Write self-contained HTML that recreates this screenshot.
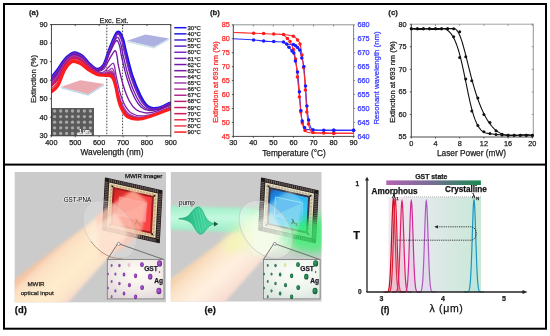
<!DOCTYPE html>
<html><head><meta charset="utf-8"><style>
html,body{margin:0;padding:0;background:#fff;}
body{width:550px;height:336px;overflow:hidden;position:relative;font-family:"Liberation Sans",sans-serif;}
svg{position:absolute;left:0;top:0;opacity:0.999;}
</style></head><body>
<svg width="550" height="336" viewBox="0 0 550 336">
<rect x="4" y="4" width="542" height="324.7" fill="none" stroke="#000" stroke-width="2"/>
<rect x="3" y="163.6" width="544" height="2" fill="#000"/>
<text x="29" y="15" font-family="Liberation Sans, sans-serif" font-size="7.8" font-weight="bold" fill="#222" stroke="#222" stroke-width="0.25">(a)</text>
<text transform="translate(36.3,79) rotate(-90)" text-anchor="middle" font-family="Liberation Sans, sans-serif" font-size="7.8" fill="#222" stroke="#222" stroke-width="0.25">Extinction (%)</text>
<text x="47.6" y="26.90" text-anchor="end" font-family="Liberation Sans, sans-serif" font-size="7.3" fill="#222" stroke="#222" stroke-width="0.25">90</text>
<line x1="49.9" y1="24.60" x2="51.4" y2="24.60" stroke="#333" stroke-width="0.8"/>
<text x="47.6" y="45.43" text-anchor="end" font-family="Liberation Sans, sans-serif" font-size="7.3" fill="#222" stroke="#222" stroke-width="0.25">80</text>
<line x1="49.9" y1="43.13" x2="51.4" y2="43.13" stroke="#333" stroke-width="0.8"/>
<text x="47.6" y="63.97" text-anchor="end" font-family="Liberation Sans, sans-serif" font-size="7.3" fill="#222" stroke="#222" stroke-width="0.25">70</text>
<line x1="49.9" y1="61.67" x2="51.4" y2="61.67" stroke="#333" stroke-width="0.8"/>
<text x="47.6" y="82.50" text-anchor="end" font-family="Liberation Sans, sans-serif" font-size="7.3" fill="#222" stroke="#222" stroke-width="0.25">60</text>
<line x1="49.9" y1="80.20" x2="51.4" y2="80.20" stroke="#333" stroke-width="0.8"/>
<text x="47.6" y="101.03" text-anchor="end" font-family="Liberation Sans, sans-serif" font-size="7.3" fill="#222" stroke="#222" stroke-width="0.25">50</text>
<line x1="49.9" y1="98.73" x2="51.4" y2="98.73" stroke="#333" stroke-width="0.8"/>
<text x="47.6" y="119.57" text-anchor="end" font-family="Liberation Sans, sans-serif" font-size="7.3" fill="#222" stroke="#222" stroke-width="0.25">40</text>
<line x1="49.9" y1="117.27" x2="51.4" y2="117.27" stroke="#333" stroke-width="0.8"/>
<text x="47.6" y="138.10" text-anchor="end" font-family="Liberation Sans, sans-serif" font-size="7.3" fill="#222" stroke="#222" stroke-width="0.25">30</text>
<line x1="49.9" y1="135.80" x2="51.4" y2="135.80" stroke="#333" stroke-width="0.8"/>
<text x="51.40" y="145.2" text-anchor="middle" font-family="Liberation Sans, sans-serif" font-size="7.3" fill="#222" stroke="#222" stroke-width="0.25">400</text>
<line x1="51.40" y1="24.6" x2="51.40" y2="26.1" stroke="#333" stroke-width="0.8"/>
<line x1="51.40" y1="135.8" x2="51.40" y2="137.3" stroke="#333" stroke-width="0.8"/>
<text x="75.28" y="145.2" text-anchor="middle" font-family="Liberation Sans, sans-serif" font-size="7.3" fill="#222" stroke="#222" stroke-width="0.25">500</text>
<line x1="75.28" y1="24.6" x2="75.28" y2="26.1" stroke="#333" stroke-width="0.8"/>
<line x1="75.28" y1="135.8" x2="75.28" y2="137.3" stroke="#333" stroke-width="0.8"/>
<text x="99.16" y="145.2" text-anchor="middle" font-family="Liberation Sans, sans-serif" font-size="7.3" fill="#222" stroke="#222" stroke-width="0.25">600</text>
<line x1="99.16" y1="24.6" x2="99.16" y2="26.1" stroke="#333" stroke-width="0.8"/>
<line x1="99.16" y1="135.8" x2="99.16" y2="137.3" stroke="#333" stroke-width="0.8"/>
<text x="123.04" y="145.2" text-anchor="middle" font-family="Liberation Sans, sans-serif" font-size="7.3" fill="#222" stroke="#222" stroke-width="0.25">700</text>
<line x1="123.04" y1="24.6" x2="123.04" y2="26.1" stroke="#333" stroke-width="0.8"/>
<line x1="123.04" y1="135.8" x2="123.04" y2="137.3" stroke="#333" stroke-width="0.8"/>
<text x="146.92" y="145.2" text-anchor="middle" font-family="Liberation Sans, sans-serif" font-size="7.3" fill="#222" stroke="#222" stroke-width="0.25">800</text>
<line x1="146.92" y1="24.6" x2="146.92" y2="26.1" stroke="#333" stroke-width="0.8"/>
<line x1="146.92" y1="135.8" x2="146.92" y2="137.3" stroke="#333" stroke-width="0.8"/>
<text x="170.80" y="145.2" text-anchor="middle" font-family="Liberation Sans, sans-serif" font-size="7.3" fill="#222" stroke="#222" stroke-width="0.25">900</text>
<line x1="170.80" y1="24.6" x2="170.80" y2="26.1" stroke="#333" stroke-width="0.8"/>
<line x1="170.80" y1="135.8" x2="170.80" y2="137.3" stroke="#333" stroke-width="0.8"/>
<text x="112" y="154.5" text-anchor="middle" font-family="Liberation Sans, sans-serif" font-size="8.3" fill="#222" stroke="#222" stroke-width="0.25">Wavelength (nm)</text>
<rect x="51.3" y="108" width="42.7" height="27.8" fill="#5a5a5a"/><circle cx="54.6" cy="111" r="1.65" fill="#a8a8a8"/><circle cx="60.7" cy="111" r="1.65" fill="#a8a8a8"/><circle cx="66.6" cy="111" r="1.65" fill="#a8a8a8"/><circle cx="72.5" cy="111" r="1.65" fill="#a8a8a8"/><circle cx="78.4" cy="111" r="1.65" fill="#a8a8a8"/><circle cx="84.4" cy="111" r="1.65" fill="#a8a8a8"/><circle cx="90.4" cy="111" r="1.65" fill="#a8a8a8"/><circle cx="54.6" cy="116.6" r="1.65" fill="#a8a8a8"/><circle cx="60.7" cy="116.6" r="1.65" fill="#a8a8a8"/><circle cx="66.6" cy="116.6" r="1.65" fill="#a8a8a8"/><circle cx="72.5" cy="116.6" r="1.65" fill="#a8a8a8"/><circle cx="78.4" cy="116.6" r="1.65" fill="#a8a8a8"/><circle cx="84.4" cy="116.6" r="1.65" fill="#a8a8a8"/><circle cx="90.4" cy="116.6" r="1.65" fill="#a8a8a8"/><circle cx="54.6" cy="122.2" r="1.65" fill="#a8a8a8"/><circle cx="60.7" cy="122.2" r="1.65" fill="#a8a8a8"/><circle cx="66.6" cy="122.2" r="1.65" fill="#a8a8a8"/><circle cx="72.5" cy="122.2" r="1.65" fill="#a8a8a8"/><circle cx="78.4" cy="122.2" r="1.65" fill="#a8a8a8"/><circle cx="84.4" cy="122.2" r="1.65" fill="#a8a8a8"/><circle cx="90.4" cy="122.2" r="1.65" fill="#a8a8a8"/><circle cx="54.6" cy="127.8" r="1.65" fill="#a8a8a8"/><circle cx="60.7" cy="127.8" r="1.65" fill="#a8a8a8"/><circle cx="66.6" cy="127.8" r="1.65" fill="#a8a8a8"/><circle cx="72.5" cy="127.8" r="1.65" fill="#a8a8a8"/><circle cx="78.4" cy="127.8" r="1.65" fill="#a8a8a8"/><circle cx="84.4" cy="127.8" r="1.65" fill="#a8a8a8"/><circle cx="90.4" cy="127.8" r="1.65" fill="#a8a8a8"/><circle cx="54.6" cy="133.4" r="1.65" fill="#a8a8a8"/><circle cx="60.7" cy="133.4" r="1.65" fill="#a8a8a8"/><circle cx="66.6" cy="133.4" r="1.65" fill="#a8a8a8"/><circle cx="72.5" cy="133.4" r="1.65" fill="#a8a8a8"/><circle cx="78.4" cy="133.4" r="1.65" fill="#a8a8a8"/><circle cx="84.4" cy="133.4" r="1.65" fill="#a8a8a8"/><circle cx="90.4" cy="133.4" r="1.65" fill="#a8a8a8"/><rect x="77" y="133.6" width="14.5" height="1.2" fill="#fff"/><text x="84.5" y="132.6" text-anchor="middle" font-family="Liberation Sans, sans-serif" font-size="4.6" fill="#fff" stroke="#fff" stroke-width="0.25">1 μm</text>
<pattern id="dotp" width="1.6" height="1.6" patternUnits="userSpaceOnUse"><rect width="1.6" height="1.6" fill="none"/><circle cx="0.8" cy="0.8" r="0.35" fill="#ffffff" fill-opacity="0.55"/></pattern>
<polygon points="60.7,86.9 80.4,80.2 104.2,84.1 88.2,94.2" fill="#e9a4ab"/>
<polygon points="60.7,86.9 80.4,80.2 104.2,84.1 88.2,94.2" fill="url(#dotp)"/>
<polygon points="60.7,86.9 88.2,94.2 104.2,84.1 104.2,85.5 88.2,95.8 60.7,88.3" fill="#b9d9ea"/>
<polygon points="127.1,40.8 145.5,34.6 169.1,38.6 154,47" fill="#a7abe0"/>
<polygon points="127.1,40.8 145.5,34.6 169.1,38.6 154,47" fill="url(#dotp)"/>
<polygon points="127.1,40.8 154,47 169.1,38.6 169.1,40 154,48.6 127.1,42.2" fill="#cfe3e6"/>
<line x1="106.8" y1="24.6" x2="106.8" y2="135.8" stroke="#333" stroke-width="0.9" stroke-dasharray="1.6,1.4"/>
<line x1="122.6" y1="24.6" x2="122.6" y2="135.8" stroke="#333" stroke-width="0.9" stroke-dasharray="1.6,1.4"/>
<text x="114" y="22.6" text-anchor="middle" font-family="Liberation Sans, sans-serif" font-size="7.3" fill="#222" stroke="#222" stroke-width="0.25">Exc.  Ext.</text>
<clipPath id="ca"><rect x="51.4" y="24.6" width="119.4" height="111.20000000000002"/></clipPath>
<g clip-path="url(#ca)"><path d="M51.00,78.00 C52.12,76.67 55.38,73.08 57.70,70.00 C60.02,66.92 62.18,62.37 64.90,59.50 C67.62,56.63 71.12,53.38 74.00,52.80 C76.88,52.22 79.70,54.22 82.20,56.00 C84.70,57.78 86.53,61.28 89.00,63.50 C91.47,65.72 94.50,69.13 97.00,69.30 C99.50,69.47 101.83,68.05 104.00,64.50 C106.17,60.95 107.75,53.37 110.00,48.00 C112.25,42.63 115.42,33.88 117.50,32.30 C119.58,30.72 121.20,35.55 122.50,38.50 C123.80,41.45 123.75,43.92 125.30,50.00 C126.85,56.08 129.35,67.42 131.80,75.00 C134.25,82.58 137.63,90.50 140.00,95.50 C142.37,100.50 144.07,102.87 146.00,105.00 C147.93,107.13 149.27,107.83 151.60,108.30 C153.93,108.77 156.77,108.77 160.00,107.80 C163.23,106.83 169.17,103.38 171.00,102.50" fill="none" stroke="#1414f0" stroke-width="3.0" stroke-linejoin="round"/><path d="M51.00,78.14 C52.12,76.81 55.38,73.25 57.70,70.16 C60.02,67.07 62.19,62.48 64.90,59.60 C67.61,56.72 71.10,53.48 73.98,52.89 C76.86,52.30 79.68,54.30 82.18,56.07 C84.68,57.85 86.52,61.35 88.99,63.56 C91.46,65.77 94.50,69.18 97.00,69.35 C99.50,69.53 101.83,68.12 103.99,64.61 C106.15,61.10 107.74,53.59 109.98,48.27 C112.22,42.96 115.38,34.30 117.44,32.74 C119.49,31.18 121.06,35.97 122.34,38.91 C123.61,41.85 123.55,44.32 125.09,50.38 C126.62,56.44 129.11,67.71 131.55,75.25 C133.98,82.79 137.33,90.65 139.70,95.63 C142.06,100.61 143.78,102.99 145.74,105.12 C147.70,107.25 149.08,107.95 151.44,108.41 C153.80,108.87 156.64,108.86 159.90,107.89 C163.16,106.91 169.15,103.45 171.00,102.56" fill="none" stroke="#1c1ce8" stroke-width="1.35" stroke-linejoin="round"/><path d="M51.00,78.28 C52.12,76.95 55.38,73.42 57.70,70.32 C60.02,67.22 62.19,62.59 64.90,59.70 C67.61,56.81 71.09,53.57 73.97,52.98 C76.84,52.39 79.65,54.38 82.16,56.15 C84.66,57.92 86.51,61.41 88.98,63.62 C91.45,65.83 94.50,69.22 97.00,69.40 C99.50,69.59 101.82,68.19 103.98,64.72 C106.14,61.24 107.73,53.81 109.96,48.55 C112.19,43.29 115.33,34.72 117.37,33.18 C119.41,31.64 120.93,36.39 122.18,39.32 C123.43,42.25 123.36,44.73 124.88,50.76 C126.40,56.79 128.88,68.00 131.30,75.50 C133.72,83.00 137.03,90.81 139.39,95.76 C141.76,100.72 143.50,103.10 145.48,105.23 C147.46,107.36 148.89,108.06 151.28,108.52 C153.67,108.98 156.51,108.96 159.80,107.97 C163.09,106.99 169.13,103.52 171.00,102.63" fill="none" stroke="#4424d0" stroke-width="1.35" stroke-linejoin="round"/><path d="M51.00,78.42 C52.12,77.10 55.38,73.58 57.70,70.48 C60.02,67.38 62.19,62.70 64.90,59.80 C67.61,56.90 71.08,53.66 73.95,53.07 C76.82,52.47 79.63,54.46 82.13,56.23 C84.64,57.99 86.49,61.47 88.97,63.68 C91.45,65.89 94.50,69.27 97.00,69.46 C99.50,69.65 101.81,68.26 103.97,64.82 C106.13,61.39 107.72,54.03 109.94,48.83 C112.16,43.62 115.29,35.14 117.30,33.62 C119.32,32.10 120.79,36.81 122.02,39.73 C123.25,42.65 123.17,45.14 124.67,51.14 C126.18,57.14 128.65,68.29 131.05,75.75 C133.46,83.21 136.73,90.96 139.10,95.89 C141.46,100.82 143.22,103.22 145.22,105.34 C147.22,107.47 148.71,108.18 151.12,108.63 C153.54,109.08 156.39,109.05 159.70,108.06 C163.01,107.07 169.12,103.58 171.00,102.69" fill="none" stroke="#5c20c4" stroke-width="1.35" stroke-linejoin="round"/><path d="M51.00,79.12 C52.12,77.81 55.38,74.42 57.70,71.28 C60.02,68.14 62.21,63.26 64.90,60.30 C67.59,57.34 71.01,54.13 73.86,53.51 C76.72,52.90 79.51,54.86 82.02,56.60 C84.53,58.34 86.42,61.81 88.92,63.98 C91.42,66.15 94.50,69.46 97.00,69.64 C99.51,69.81 101.80,68.42 103.95,65.04 C106.10,61.66 107.70,54.46 109.90,49.37 C112.10,44.28 115.21,35.97 117.17,34.50 C119.14,33.03 120.53,37.65 121.71,40.55 C122.89,43.45 122.79,45.95 124.27,51.90 C125.74,57.85 128.19,68.88 130.57,76.25 C132.94,83.62 136.15,91.26 138.50,96.15 C140.86,101.04 142.66,103.46 144.71,105.58 C146.76,107.69 148.34,108.41 150.81,108.85 C153.27,109.29 156.13,109.24 159.50,108.23 C162.87,107.23 169.08,103.72 171.00,102.81" fill="none" stroke="#7a28c0" stroke-width="1.35" stroke-linejoin="round"/><path d="M51.00,79.96 C52.12,78.67 55.38,75.42 57.70,72.24 C60.02,69.06 62.22,63.93 64.90,60.90 C67.58,57.87 70.93,54.69 73.76,54.05 C76.59,53.40 79.38,55.33 81.89,57.05 C84.41,58.77 86.34,62.19 88.86,64.34 C91.38,66.49 94.50,69.73 97.00,69.98 C99.50,70.22 101.75,68.91 103.88,65.80 C106.01,62.68 107.62,56.00 109.76,51.30 C111.90,46.60 114.90,38.89 116.72,37.58 C118.54,36.27 119.63,40.59 120.66,43.42 C121.69,46.25 121.54,48.80 122.92,54.56 C124.30,60.32 126.67,70.92 128.94,78.00 C131.20,85.08 134.18,92.33 136.51,97.06 C138.85,101.79 140.76,104.29 142.96,106.38 C145.16,108.47 147.07,109.21 149.71,109.62 C152.35,110.03 155.25,109.90 158.80,108.84 C162.35,107.78 168.97,104.19 171.00,103.26" fill="none" stroke="#7020b0" stroke-width="1.35" stroke-linejoin="round"/><path d="M51.00,80.80 C52.12,79.53 55.38,76.42 57.70,73.20 C60.02,69.98 62.24,64.60 64.90,61.50 C67.56,58.40 70.85,55.25 73.66,54.58 C76.47,53.91 79.24,55.81 81.76,57.50 C84.28,59.19 86.26,62.56 88.80,64.70 C91.34,66.84 94.50,70.01 97.00,70.31 C99.50,70.62 101.71,69.40 103.81,66.55 C105.91,63.70 107.54,57.54 109.62,53.23 C111.70,48.91 114.59,41.82 116.27,40.66 C117.94,39.50 118.78,43.53 119.68,46.29 C120.59,49.05 120.40,51.64 121.69,57.22 C122.98,62.80 125.27,72.96 127.43,79.75 C129.58,86.54 132.33,93.40 134.64,97.97 C136.95,102.54 138.95,105.12 141.28,107.19 C143.62,109.26 145.84,110.01 148.65,110.39 C151.45,110.77 154.37,110.57 158.10,109.45 C161.83,108.34 168.85,104.66 171.00,103.70" fill="none" stroke="#7018a8" stroke-width="1.35" stroke-linejoin="round"/><path d="M51.00,81.64 C52.12,80.39 55.38,77.42 57.70,74.16 C60.02,70.90 62.26,65.27 64.90,62.10 C67.54,58.93 70.77,55.81 73.56,55.11 C76.35,54.42 79.10,56.29 81.63,57.95 C84.16,59.61 86.18,62.87 88.74,65.06 C91.30,67.25 94.53,70.41 97.00,71.07 C99.47,71.73 101.55,70.96 103.58,69.04 C105.61,67.12 107.30,62.59 109.16,59.55 C111.03,56.51 113.47,51.42 114.77,50.78 C116.07,50.14 116.35,53.19 116.97,55.72 C117.58,58.25 117.42,61.00 118.47,65.96 C119.52,70.92 121.48,79.67 123.29,85.50 C125.10,91.33 127.14,96.91 129.31,100.96 C131.47,105.02 133.60,107.84 136.27,109.83 C138.93,111.82 142.05,112.65 145.30,112.92 C148.56,113.19 151.52,112.75 155.80,111.45 C160.08,110.16 168.47,106.20 171.00,105.15" fill="none" stroke="#7818a0" stroke-width="1.35" stroke-linejoin="round"/><path d="M51.00,82.48 C52.12,81.25 55.38,78.42 57.70,75.12 C60.02,71.82 62.27,65.95 64.90,62.70 C67.53,59.45 70.69,56.36 73.46,55.65 C76.22,54.93 78.96,56.77 81.50,58.40 C84.03,60.03 86.10,63.16 88.68,65.42 C91.26,67.68 94.56,70.85 97.00,71.95 C99.44,73.06 101.37,72.84 103.30,72.06 C105.23,71.28 106.99,68.74 108.60,67.25 C110.21,65.76 111.94,63.11 112.95,63.10 C113.96,63.09 114.13,64.95 114.69,67.20 C115.24,69.45 115.39,72.38 116.27,76.60 C117.15,80.82 118.59,87.83 119.97,92.50 C121.35,97.17 122.66,101.17 124.53,104.60 C126.40,108.02 128.35,111.15 131.19,113.05 C134.03,114.95 137.94,115.86 141.58,116.00 C145.21,116.14 148.10,115.41 153.00,113.89 C157.90,112.38 168.00,108.07 171.00,106.91" fill="none" stroke="#8828a8" stroke-width="1.35" stroke-linejoin="round"/><path d="M51.00,83.32 C52.12,82.11 55.38,79.42 57.70,76.08 C60.02,72.74 62.29,66.62 64.90,63.30 C67.51,59.98 70.61,56.92 73.35,56.18 C76.10,55.44 78.82,57.25 81.36,58.85 C83.91,60.45 86.01,63.52 88.62,65.78 C91.23,68.04 94.57,71.16 97.00,72.42 C99.43,73.68 101.29,73.67 103.18,73.36 C105.07,73.04 106.86,71.38 108.36,70.55 C109.86,69.72 111.22,68.12 112.17,68.38 C113.12,68.64 113.44,69.99 114.06,72.12 C114.68,74.25 115.06,77.26 115.90,81.16 C116.75,85.06 117.93,91.33 119.12,95.50 C120.32,99.67 121.35,103.00 123.06,106.16 C124.76,109.31 126.52,112.57 129.36,114.43 C132.20,116.29 136.35,117.24 140.09,117.32 C143.83,117.40 146.65,116.54 151.80,114.93 C156.95,113.33 167.80,108.88 171.00,107.67" fill="none" stroke="#a040b0" stroke-width="1.35" stroke-linejoin="round"/><path d="M51.00,84.16 C52.12,82.97 55.38,80.42 57.70,77.04 C60.02,73.66 62.31,67.29 64.90,63.90 C67.49,60.51 70.53,57.48 73.25,56.72 C75.97,55.95 78.68,57.73 81.23,59.30 C83.78,60.87 85.93,63.90 88.56,66.14 C91.19,68.38 94.57,71.42 97.00,72.73 C99.43,74.04 101.25,74.09 103.12,74.00 C104.99,73.92 106.80,72.70 108.24,72.20 C109.68,71.70 110.85,70.62 111.78,71.02 C112.71,71.42 113.14,72.51 113.82,74.58 C114.50,76.65 115.01,79.70 115.85,83.44 C116.68,87.18 117.73,93.08 118.83,97.00 C119.93,100.92 120.84,103.92 122.45,106.94 C124.07,109.96 125.70,113.28 128.52,115.12 C131.34,116.96 135.60,117.92 139.38,117.98 C143.16,118.04 145.93,117.11 151.20,115.46 C156.47,113.80 167.70,109.28 171.00,108.04" fill="none" stroke="#a83898" stroke-width="1.35" stroke-linejoin="round"/><path d="M51.00,85.00 C52.12,83.83 55.38,81.42 57.70,78.00 C60.02,74.58 62.33,67.96 64.90,64.50 C67.48,61.04 70.45,58.04 73.15,57.25 C75.85,56.46 78.54,58.21 81.10,59.75 C83.66,61.29 85.85,64.30 88.50,66.50 C91.15,68.70 94.57,71.66 97.00,72.97 C99.43,74.27 101.23,74.32 103.09,74.33 C104.95,74.34 106.76,73.36 108.18,73.02 C109.60,72.69 110.66,71.88 111.59,72.34 C112.51,72.80 113.01,73.77 113.72,75.81 C114.43,77.85 115.02,80.92 115.85,84.58 C116.69,88.24 117.66,93.96 118.71,97.75 C119.77,101.54 120.61,104.38 122.18,107.33 C123.75,110.28 125.31,113.64 128.12,115.47 C130.93,117.30 135.23,118.27 139.03,118.31 C142.82,118.35 145.57,117.40 150.90,115.72 C156.23,114.04 167.65,109.48 171.00,108.23" fill="none" stroke="#b02890" stroke-width="1.35" stroke-linejoin="round"/><path d="M51.00,85.56 C52.12,84.41 55.38,82.08 57.70,78.64 C60.02,75.20 62.34,68.41 64.90,64.90 C67.46,61.39 70.40,58.41 73.08,57.61 C75.77,56.80 78.45,58.53 81.01,60.05 C83.58,61.57 85.80,64.56 88.46,66.74 C91.12,68.92 94.56,71.82 97.00,73.12 C99.44,74.42 101.21,74.47 103.07,74.54 C104.93,74.62 106.74,73.80 108.14,73.58 C109.54,73.35 110.53,72.71 111.45,73.22 C112.38,73.73 112.93,74.61 113.66,76.63 C114.40,78.65 115.04,81.74 115.87,85.34 C116.70,88.94 117.63,94.54 118.65,98.25 C119.67,101.96 120.48,104.68 122.01,107.59 C123.55,110.50 125.06,113.87 127.86,115.69 C130.66,117.52 134.99,118.50 138.80,118.53 C142.60,118.56 145.33,117.59 150.70,115.89 C156.07,114.20 167.62,109.61 171.00,108.36" fill="none" stroke="#b82078" stroke-width="1.35" stroke-linejoin="round"/><path d="M51.00,86.12 C52.12,84.98 55.38,82.75 57.70,79.28 C60.02,75.81 62.35,68.85 64.90,65.30 C67.45,61.75 70.34,58.79 73.01,57.96 C75.68,57.14 78.36,58.85 80.92,60.35 C83.49,61.85 85.74,64.83 88.42,66.98 C91.10,69.13 94.56,71.98 97.00,73.28 C99.44,74.57 101.20,74.62 103.05,74.76 C104.90,74.90 106.72,74.23 108.10,74.12 C109.48,74.02 110.41,73.55 111.32,74.10 C112.24,74.65 112.85,75.45 113.61,77.45 C114.37,79.45 115.06,82.55 115.89,86.10 C116.73,89.65 117.60,95.12 118.59,98.75 C119.59,102.38 120.35,104.99 121.85,107.85 C123.36,110.71 124.82,114.11 127.61,115.92 C130.39,117.74 134.75,118.73 138.57,118.75 C142.38,118.77 145.09,117.78 150.50,116.06 C155.91,114.35 167.58,109.75 171.00,108.48" fill="none" stroke="#c01868" stroke-width="1.35" stroke-linejoin="round"/><path d="M51.00,86.68 C52.12,85.55 55.38,83.42 57.70,79.92 C60.02,76.42 62.36,69.30 64.90,65.70 C67.44,62.10 70.29,59.16 72.95,58.32 C75.60,57.48 78.26,59.17 80.84,60.65 C83.41,62.13 85.69,65.09 88.38,67.22 C91.07,69.35 94.56,72.14 97.00,73.43 C99.44,74.73 101.19,74.77 103.03,74.98 C104.87,75.18 106.70,74.67 108.06,74.67 C109.42,74.68 110.28,74.38 111.20,74.98 C112.11,75.58 112.77,76.29 113.56,78.27 C114.35,80.25 115.10,83.36 115.93,86.86 C116.76,90.36 117.59,95.71 118.55,99.25 C119.51,102.79 120.24,105.29 121.71,108.11 C123.17,110.93 124.59,114.34 127.36,116.16 C130.13,117.97 134.51,118.96 138.34,118.97 C142.16,118.98 144.86,117.97 150.30,116.24 C155.74,114.51 167.55,109.88 171.00,108.61" fill="none" stroke="#d01858" stroke-width="1.35" stroke-linejoin="round"/><path d="M51.00,88.92 C52.12,87.85 55.38,86.08 57.70,82.48 C60.02,78.88 62.40,71.09 64.90,67.30 C67.40,63.51 70.08,60.65 72.67,59.74 C75.27,58.83 77.89,60.44 80.48,61.85 C83.08,63.26 85.47,66.18 88.22,68.18 C90.97,70.18 94.53,72.73 97.00,73.88 C99.47,75.03 101.18,74.91 103.02,75.08 C104.86,75.26 106.69,74.89 108.04,74.95 C109.39,75.01 110.21,74.80 111.13,75.42 C112.05,76.04 112.74,76.71 113.54,78.68 C114.34,80.65 115.12,83.77 115.95,87.24 C116.78,90.71 117.58,96.00 118.53,99.50 C119.48,103.00 120.18,105.44 121.63,108.24 C123.09,111.03 124.47,114.46 127.24,116.27 C130.00,118.08 134.40,119.07 138.22,119.08 C142.05,119.09 144.74,118.06 150.20,116.33 C155.66,114.59 167.53,109.95 171.00,108.67" fill="none" stroke="#e83050" stroke-width="1.35" stroke-linejoin="round"/><path d="M51.00,90.60 C52.12,89.57 55.38,88.08 57.70,84.40 C60.02,80.72 62.44,72.43 64.90,68.50 C67.36,64.57 69.92,61.77 72.47,60.81 C75.02,59.85 77.61,61.40 80.22,62.75 C82.83,64.10 85.30,66.99 88.10,68.90 C90.90,70.81 94.52,73.17 97.00,74.21 C99.48,75.26 101.17,75.02 103.01,75.19 C104.85,75.36 106.68,75.11 108.02,75.23 C109.36,75.34 110.15,75.22 111.06,75.86 C111.98,76.50 112.70,77.13 113.52,79.09 C114.34,81.05 115.14,84.18 115.97,87.62 C116.81,91.06 117.58,96.29 118.51,99.75 C119.45,103.21 120.13,105.60 121.57,108.37 C123.00,111.14 124.36,114.58 127.12,116.38 C129.88,118.19 134.28,119.19 138.11,119.19 C141.94,119.19 144.62,118.16 150.10,116.41 C155.58,114.67 167.52,110.02 171.00,108.74" fill="none" stroke="#f03c44" stroke-width="1.35" stroke-linejoin="round"/><path d="M51.00,92.00 C52.12,91.00 55.38,89.75 57.70,86.00 C60.02,82.25 62.47,73.55 64.90,69.50 C67.33,65.45 69.78,62.70 72.30,61.70 C74.82,60.70 77.38,62.20 80.00,63.50 C82.62,64.80 85.17,67.67 88.00,69.50 C90.83,71.33 94.50,73.53 97.00,74.50 C99.50,75.47 101.17,75.13 103.00,75.30 C104.83,75.47 106.67,75.33 108.00,75.50 C109.33,75.67 110.08,75.63 111.00,76.30 C111.92,76.97 112.67,77.55 113.50,79.50 C114.33,81.45 115.17,84.58 116.00,88.00 C116.83,91.42 117.58,96.58 118.50,100.00 C119.42,103.42 120.08,105.75 121.50,108.50 C122.92,111.25 124.25,114.70 127.00,116.50 C129.75,118.30 134.17,119.30 138.00,119.30 C141.83,119.30 144.50,118.25 150.00,116.50 C155.50,114.75 167.50,110.08 171.00,108.80" fill="none" stroke="#ff1c1c" stroke-width="3.0" stroke-linejoin="round"/></g>
<rect x="51.4" y="24.6" width="119.40" height="111.20" fill="none" stroke="#333" stroke-width="0.9"/>
<line x1="174.3" y1="27.70" x2="186.5" y2="27.70" stroke="#1414f0" stroke-width="1.5"/>
<text x="187.6" y="29.80" font-family="Liberation Sans, sans-serif" font-size="5.9" fill="#222" stroke="#222" stroke-width="0.25">30°C</text>
<line x1="174.3" y1="33.84" x2="186.5" y2="33.84" stroke="#1c1ce8" stroke-width="1.5"/>
<text x="187.6" y="35.94" font-family="Liberation Sans, sans-serif" font-size="5.9" fill="#222" stroke="#222" stroke-width="0.25">40°C</text>
<line x1="174.3" y1="39.98" x2="186.5" y2="39.98" stroke="#4424d0" stroke-width="1.5"/>
<text x="187.6" y="42.08" font-family="Liberation Sans, sans-serif" font-size="5.9" fill="#222" stroke="#222" stroke-width="0.25">50°C</text>
<line x1="174.3" y1="46.12" x2="186.5" y2="46.12" stroke="#5c20c4" stroke-width="1.5"/>
<text x="187.6" y="48.22" font-family="Liberation Sans, sans-serif" font-size="5.9" fill="#222" stroke="#222" stroke-width="0.25">55°C</text>
<line x1="174.3" y1="52.26" x2="186.5" y2="52.26" stroke="#7a28c0" stroke-width="1.5"/>
<text x="187.6" y="54.36" font-family="Liberation Sans, sans-serif" font-size="5.9" fill="#222" stroke="#222" stroke-width="0.25">60°C</text>
<line x1="174.3" y1="58.40" x2="186.5" y2="58.40" stroke="#7020b0" stroke-width="1.5"/>
<text x="187.6" y="60.50" font-family="Liberation Sans, sans-serif" font-size="5.9" fill="#222" stroke="#222" stroke-width="0.25">61°C</text>
<line x1="174.3" y1="64.54" x2="186.5" y2="64.54" stroke="#7018a8" stroke-width="1.5"/>
<text x="187.6" y="66.64" font-family="Liberation Sans, sans-serif" font-size="5.9" fill="#222" stroke="#222" stroke-width="0.25">62°C</text>
<line x1="174.3" y1="70.68" x2="186.5" y2="70.68" stroke="#7818a0" stroke-width="1.5"/>
<text x="187.6" y="72.78" font-family="Liberation Sans, sans-serif" font-size="5.9" fill="#222" stroke="#222" stroke-width="0.25">63°C</text>
<line x1="174.3" y1="76.82" x2="186.5" y2="76.82" stroke="#8828a8" stroke-width="1.5"/>
<text x="187.6" y="78.92" font-family="Liberation Sans, sans-serif" font-size="5.9" fill="#222" stroke="#222" stroke-width="0.25">64°C</text>
<line x1="174.3" y1="82.96" x2="186.5" y2="82.96" stroke="#a040b0" stroke-width="1.5"/>
<text x="187.6" y="85.06" font-family="Liberation Sans, sans-serif" font-size="5.9" fill="#222" stroke="#222" stroke-width="0.25">65°C</text>
<line x1="174.3" y1="89.10" x2="186.5" y2="89.10" stroke="#a83898" stroke-width="1.5"/>
<text x="187.6" y="91.20" font-family="Liberation Sans, sans-serif" font-size="5.9" fill="#222" stroke="#222" stroke-width="0.25">66°C</text>
<line x1="174.3" y1="95.24" x2="186.5" y2="95.24" stroke="#b02890" stroke-width="1.5"/>
<text x="187.6" y="97.34" font-family="Liberation Sans, sans-serif" font-size="5.9" fill="#222" stroke="#222" stroke-width="0.25">67°C</text>
<line x1="174.3" y1="101.38" x2="186.5" y2="101.38" stroke="#b82078" stroke-width="1.5"/>
<text x="187.6" y="103.48" font-family="Liberation Sans, sans-serif" font-size="5.9" fill="#222" stroke="#222" stroke-width="0.25">68°C</text>
<line x1="174.3" y1="107.52" x2="186.5" y2="107.52" stroke="#c01868" stroke-width="1.5"/>
<text x="187.6" y="109.62" font-family="Liberation Sans, sans-serif" font-size="5.9" fill="#222" stroke="#222" stroke-width="0.25">69°C</text>
<line x1="174.3" y1="113.66" x2="186.5" y2="113.66" stroke="#d01858" stroke-width="1.5"/>
<text x="187.6" y="115.76" font-family="Liberation Sans, sans-serif" font-size="5.9" fill="#222" stroke="#222" stroke-width="0.25">70°C</text>
<line x1="174.3" y1="119.80" x2="186.5" y2="119.80" stroke="#e83050" stroke-width="1.5"/>
<text x="187.6" y="121.90" font-family="Liberation Sans, sans-serif" font-size="5.9" fill="#222" stroke="#222" stroke-width="0.25">75°C</text>
<line x1="174.3" y1="125.94" x2="186.5" y2="125.94" stroke="#f03c44" stroke-width="1.5"/>
<text x="187.6" y="128.04" font-family="Liberation Sans, sans-serif" font-size="5.9" fill="#222" stroke="#222" stroke-width="0.25">80°C</text>
<line x1="174.3" y1="132.08" x2="186.5" y2="132.08" stroke="#ff1c1c" stroke-width="1.5"/>
<text x="187.6" y="134.18" font-family="Liberation Sans, sans-serif" font-size="5.9" fill="#222" stroke="#222" stroke-width="0.25">90°C</text>
<text x="210" y="15" font-family="Liberation Sans, sans-serif" font-size="7.8" font-weight="bold" fill="#222" stroke="#222" stroke-width="0.25">(b)</text>
<text x="229.9" y="27.20" text-anchor="end" font-family="Liberation Sans, sans-serif" font-size="7.3" fill="#ff2a2a" stroke="#ff2a2a" stroke-width="0.25">85</text>
<text x="357.5" y="27.10" font-family="Liberation Sans, sans-serif" font-size="7.3" fill="#3a3aff" stroke="#3a3aff" stroke-width="0.25">680</text>
<line x1="231.8" y1="24.80" x2="233.3" y2="24.80" stroke="#333" stroke-width="0.8"/>
<line x1="353.6" y1="24.80" x2="355.1" y2="24.80" stroke="#777" stroke-width="0.8"/>
<text x="229.9" y="41.15" text-anchor="end" font-family="Liberation Sans, sans-serif" font-size="7.3" fill="#ff2a2a" stroke="#ff2a2a" stroke-width="0.25">80</text>
<text x="357.5" y="41.05" font-family="Liberation Sans, sans-serif" font-size="7.3" fill="#3a3aff" stroke="#3a3aff" stroke-width="0.25">675</text>
<line x1="231.8" y1="38.75" x2="233.3" y2="38.75" stroke="#333" stroke-width="0.8"/>
<line x1="353.6" y1="38.75" x2="355.1" y2="38.75" stroke="#777" stroke-width="0.8"/>
<text x="229.9" y="55.10" text-anchor="end" font-family="Liberation Sans, sans-serif" font-size="7.3" fill="#ff2a2a" stroke="#ff2a2a" stroke-width="0.25">75</text>
<text x="357.5" y="55.00" font-family="Liberation Sans, sans-serif" font-size="7.3" fill="#3a3aff" stroke="#3a3aff" stroke-width="0.25">670</text>
<line x1="231.8" y1="52.70" x2="233.3" y2="52.70" stroke="#333" stroke-width="0.8"/>
<line x1="353.6" y1="52.70" x2="355.1" y2="52.70" stroke="#777" stroke-width="0.8"/>
<text x="229.9" y="69.05" text-anchor="end" font-family="Liberation Sans, sans-serif" font-size="7.3" fill="#ff2a2a" stroke="#ff2a2a" stroke-width="0.25">70</text>
<text x="357.5" y="68.95" font-family="Liberation Sans, sans-serif" font-size="7.3" fill="#3a3aff" stroke="#3a3aff" stroke-width="0.25">665</text>
<line x1="231.8" y1="66.65" x2="233.3" y2="66.65" stroke="#333" stroke-width="0.8"/>
<line x1="353.6" y1="66.65" x2="355.1" y2="66.65" stroke="#777" stroke-width="0.8"/>
<text x="229.9" y="83.00" text-anchor="end" font-family="Liberation Sans, sans-serif" font-size="7.3" fill="#ff2a2a" stroke="#ff2a2a" stroke-width="0.25">65</text>
<text x="357.5" y="82.90" font-family="Liberation Sans, sans-serif" font-size="7.3" fill="#3a3aff" stroke="#3a3aff" stroke-width="0.25">660</text>
<line x1="231.8" y1="80.60" x2="233.3" y2="80.60" stroke="#333" stroke-width="0.8"/>
<line x1="353.6" y1="80.60" x2="355.1" y2="80.60" stroke="#777" stroke-width="0.8"/>
<text x="229.9" y="96.95" text-anchor="end" font-family="Liberation Sans, sans-serif" font-size="7.3" fill="#ff2a2a" stroke="#ff2a2a" stroke-width="0.25">60</text>
<text x="357.5" y="96.85" font-family="Liberation Sans, sans-serif" font-size="7.3" fill="#3a3aff" stroke="#3a3aff" stroke-width="0.25">655</text>
<line x1="231.8" y1="94.55" x2="233.3" y2="94.55" stroke="#333" stroke-width="0.8"/>
<line x1="353.6" y1="94.55" x2="355.1" y2="94.55" stroke="#777" stroke-width="0.8"/>
<text x="229.9" y="110.90" text-anchor="end" font-family="Liberation Sans, sans-serif" font-size="7.3" fill="#ff2a2a" stroke="#ff2a2a" stroke-width="0.25">55</text>
<text x="357.5" y="110.80" font-family="Liberation Sans, sans-serif" font-size="7.3" fill="#3a3aff" stroke="#3a3aff" stroke-width="0.25">650</text>
<line x1="231.8" y1="108.50" x2="233.3" y2="108.50" stroke="#333" stroke-width="0.8"/>
<line x1="353.6" y1="108.50" x2="355.1" y2="108.50" stroke="#777" stroke-width="0.8"/>
<text x="229.9" y="124.85" text-anchor="end" font-family="Liberation Sans, sans-serif" font-size="7.3" fill="#ff2a2a" stroke="#ff2a2a" stroke-width="0.25">50</text>
<text x="357.5" y="124.75" font-family="Liberation Sans, sans-serif" font-size="7.3" fill="#3a3aff" stroke="#3a3aff" stroke-width="0.25">645</text>
<line x1="231.8" y1="122.45" x2="233.3" y2="122.45" stroke="#333" stroke-width="0.8"/>
<line x1="353.6" y1="122.45" x2="355.1" y2="122.45" stroke="#777" stroke-width="0.8"/>
<text x="229.9" y="138.80" text-anchor="end" font-family="Liberation Sans, sans-serif" font-size="7.3" fill="#ff2a2a" stroke="#ff2a2a" stroke-width="0.25">45</text>
<text x="357.5" y="138.70" font-family="Liberation Sans, sans-serif" font-size="7.3" fill="#3a3aff" stroke="#3a3aff" stroke-width="0.25">640</text>
<line x1="231.8" y1="136.40" x2="233.3" y2="136.40" stroke="#333" stroke-width="0.8"/>
<line x1="353.6" y1="136.40" x2="355.1" y2="136.40" stroke="#777" stroke-width="0.8"/>
<text x="233.30" y="145.2" text-anchor="middle" font-family="Liberation Sans, sans-serif" font-size="7.3" fill="#222" stroke="#222" stroke-width="0.25">30</text>
<line x1="233.30" y1="24.8" x2="233.30" y2="26.3" stroke="#555" stroke-width="0.8"/>
<line x1="233.30" y1="136.4" x2="233.30" y2="137.9" stroke="#333" stroke-width="0.8"/>
<text x="253.35" y="145.2" text-anchor="middle" font-family="Liberation Sans, sans-serif" font-size="7.3" fill="#222" stroke="#222" stroke-width="0.25">40</text>
<line x1="253.35" y1="24.8" x2="253.35" y2="26.3" stroke="#555" stroke-width="0.8"/>
<line x1="253.35" y1="136.4" x2="253.35" y2="137.9" stroke="#333" stroke-width="0.8"/>
<text x="273.40" y="145.2" text-anchor="middle" font-family="Liberation Sans, sans-serif" font-size="7.3" fill="#222" stroke="#222" stroke-width="0.25">50</text>
<line x1="273.40" y1="24.8" x2="273.40" y2="26.3" stroke="#555" stroke-width="0.8"/>
<line x1="273.40" y1="136.4" x2="273.40" y2="137.9" stroke="#333" stroke-width="0.8"/>
<text x="293.45" y="145.2" text-anchor="middle" font-family="Liberation Sans, sans-serif" font-size="7.3" fill="#222" stroke="#222" stroke-width="0.25">60</text>
<line x1="293.45" y1="24.8" x2="293.45" y2="26.3" stroke="#555" stroke-width="0.8"/>
<line x1="293.45" y1="136.4" x2="293.45" y2="137.9" stroke="#333" stroke-width="0.8"/>
<text x="313.50" y="145.2" text-anchor="middle" font-family="Liberation Sans, sans-serif" font-size="7.3" fill="#222" stroke="#222" stroke-width="0.25">70</text>
<line x1="313.50" y1="24.8" x2="313.50" y2="26.3" stroke="#555" stroke-width="0.8"/>
<line x1="313.50" y1="136.4" x2="313.50" y2="137.9" stroke="#333" stroke-width="0.8"/>
<text x="333.55" y="145.2" text-anchor="middle" font-family="Liberation Sans, sans-serif" font-size="7.3" fill="#222" stroke="#222" stroke-width="0.25">80</text>
<line x1="333.55" y1="24.8" x2="333.55" y2="26.3" stroke="#555" stroke-width="0.8"/>
<line x1="333.55" y1="136.4" x2="333.55" y2="137.9" stroke="#333" stroke-width="0.8"/>
<text x="353.60" y="145.2" text-anchor="middle" font-family="Liberation Sans, sans-serif" font-size="7.3" fill="#222" stroke="#222" stroke-width="0.25">90</text>
<line x1="353.60" y1="24.8" x2="353.60" y2="26.3" stroke="#555" stroke-width="0.8"/>
<line x1="353.60" y1="136.4" x2="353.60" y2="137.9" stroke="#333" stroke-width="0.8"/>
<text x="294" y="155.5" text-anchor="middle" font-family="Liberation Sans, sans-serif" font-size="8.3" fill="#222" stroke="#222" stroke-width="0.25">Temperature (°C)</text>
<text transform="translate(218.2,82) rotate(-90)" text-anchor="middle" font-family="Liberation Sans, sans-serif" font-size="7.5" fill="#ff2a2a" stroke="#ff2a2a" stroke-width="0.25">Extinction at 693 nm (%)</text>
<text transform="translate(379,78) rotate(-90)" text-anchor="middle" font-family="Liberation Sans, sans-serif" font-size="7.8" fill="#3a3aff" stroke="#3a3aff" stroke-width="0.25">Resonant wavelength (nm)</text>
<line x1="233.3" y1="24.8" x2="353.6" y2="24.8" stroke="#888" stroke-width="0.9"/>
<line x1="353.6" y1="24.8" x2="353.6" y2="136.4" stroke="#777" stroke-width="0.9"/>
<line x1="233.3" y1="24.8" x2="233.3" y2="136.4" stroke="#333" stroke-width="0.9"/>
<line x1="233.3" y1="136.4" x2="353.6" y2="136.4" stroke="#333" stroke-width="0.9"/>
<g fill="none" stroke-width="1.1"><path d="M233.30,38.80 C236.68,39.00 248.55,39.62 253.60,40.00 C258.65,40.38 260.25,40.83 263.60,41.10 C266.95,41.37 270.38,41.45 273.70,41.60 C277.02,41.75 281.33,41.60 283.50,42.00 C285.67,42.40 285.05,43.57 286.70,44.00 C288.35,44.43 291.92,44.30 293.40,44.60 C294.88,44.90 294.90,45.32 295.60,45.80 C296.30,46.28 296.93,46.80 297.60,47.50 C298.27,48.20 298.90,48.25 299.60,50.00 C300.30,51.75 301.10,55.25 301.80,58.00 C302.50,60.75 303.18,61.83 303.80,66.50 C304.42,71.17 304.98,79.42 305.50,86.00 C306.02,92.58 306.38,100.33 306.90,106.00 C307.42,111.67 308.03,116.58 308.60,120.00 C309.17,123.42 309.57,124.87 310.30,126.50 C311.03,128.13 310.76,129.18 313.00,129.80 C315.24,130.42 320.29,130.12 323.75,130.20 C327.21,130.28 328.77,130.28 333.75,130.30 C338.73,130.32 350.29,130.30 353.60,130.30" stroke="#2a2aff"/><path d="M283.50,42.00 C284.42,42.88 287.58,45.80 289.00,47.30 C290.42,48.80 291.20,50.05 292.00,51.00 C292.80,51.95 293.23,51.33 293.80,53.00 C294.37,54.67 294.78,57.83 295.40,61.00 C296.02,64.17 296.83,66.88 297.50,72.00 C298.17,77.12 298.85,85.27 299.40,91.70 C299.95,98.13 300.33,105.72 300.80,110.60 C301.27,115.48 301.58,118.18 302.20,121.00 C302.82,123.82 303.37,126.03 304.50,127.50 C305.63,128.97 304.12,129.33 309.00,129.80 C313.88,130.27 326.32,130.22 333.75,130.30 C341.18,130.38 350.29,130.30 353.60,130.30" stroke="#2a2aff"/><path d="M233.30,32.50 C236.68,32.62 248.55,33.02 253.60,33.20 C258.65,33.38 260.25,33.47 263.60,33.60 C266.95,33.73 270.38,33.83 273.70,34.00 C277.02,34.17 280.22,34.23 283.50,34.60 C286.78,34.97 291.05,35.32 293.40,36.20 C295.75,37.08 296.50,38.60 297.60,39.90 C298.70,41.20 299.27,41.48 300.00,44.00 C300.73,46.52 301.40,51.08 302.00,55.00 C302.60,58.92 303.03,61.67 303.60,67.50 C304.17,73.33 304.87,82.58 305.40,90.00 C305.93,97.42 306.28,106.33 306.80,112.00 C307.32,117.67 307.97,121.08 308.50,124.00 C309.03,126.92 309.25,128.07 310.00,129.50 C310.75,130.93 310.71,132.00 313.00,132.60 C315.29,133.20 320.29,133.00 323.75,133.10 C327.21,133.20 328.77,133.17 333.75,133.20 C338.73,133.23 350.29,133.28 353.60,133.30" stroke="#ff2a2a"/><path d="M283.50,34.60 C284.15,35.23 286.32,37.25 287.40,38.40 C288.48,39.55 289.00,39.65 290.00,41.50 C291.00,43.35 292.47,46.58 293.40,49.50 C294.33,52.42 294.93,54.42 295.60,59.00 C296.27,63.58 296.77,70.67 297.40,77.00 C298.03,83.33 298.83,91.17 299.40,97.00 C299.97,102.83 300.32,107.67 300.80,112.00 C301.28,116.33 301.60,119.92 302.30,123.00 C303.00,126.08 303.72,128.88 305.00,130.50 C306.28,132.12 305.21,132.25 310.00,132.70 C314.79,133.15 326.48,133.10 333.75,133.20 C341.02,133.30 350.29,133.28 353.60,133.30" stroke="#ff2a2a"/></g>
<circle cx="253.6" cy="33.2" r="1.75" fill="#ff1a1a"/><circle cx="263.6" cy="33.6" r="1.75" fill="#ff1a1a"/><circle cx="273.7" cy="34" r="1.75" fill="#ff1a1a"/><circle cx="283.5" cy="34.6" r="1.75" fill="#ff1a1a"/><circle cx="293.4" cy="36.2" r="1.75" fill="#ff1a1a"/><circle cx="297.6" cy="39.9" r="1.75" fill="#ff1a1a"/><circle cx="300" cy="44" r="1.75" fill="#ff1a1a"/><circle cx="302" cy="55" r="1.75" fill="#ff1a1a"/><circle cx="303.6" cy="67.5" r="1.75" fill="#ff1a1a"/><circle cx="305.4" cy="90" r="1.75" fill="#ff1a1a"/><circle cx="306.8" cy="112" r="1.75" fill="#ff1a1a"/><circle cx="308.5" cy="124" r="1.75" fill="#ff1a1a"/><circle cx="313" cy="132.6" r="1.75" fill="#ff1a1a"/><circle cx="323.75" cy="133.1" r="1.75" fill="#ff1a1a"/><circle cx="333.75" cy="133.2" r="1.75" fill="#ff1a1a"/><circle cx="287.4" cy="38.4" r="1.75" fill="#ff1a1a"/><circle cx="290" cy="41.5" r="1.75" fill="#ff1a1a"/><circle cx="293.4" cy="49.5" r="1.75" fill="#ff1a1a"/><circle cx="295.6" cy="59" r="1.75" fill="#ff1a1a"/><circle cx="297.4" cy="77" r="1.75" fill="#ff1a1a"/><circle cx="299.4" cy="97" r="1.75" fill="#ff1a1a"/><circle cx="300.8" cy="112" r="1.75" fill="#ff1a1a"/><circle cx="302.3" cy="123" r="1.75" fill="#ff1a1a"/><circle cx="305" cy="130.5" r="1.75" fill="#ff1a1a"/><circle cx="333.75" cy="133.2" r="1.75" fill="#ff1a1a"/><circle cx="253.6" cy="40" r="1.75" fill="#1a1aff"/><circle cx="263.6" cy="41.1" r="1.75" fill="#1a1aff"/><circle cx="273.7" cy="41.6" r="1.75" fill="#1a1aff"/><circle cx="283.5" cy="42" r="1.75" fill="#1a1aff"/><circle cx="286.7" cy="44" r="1.75" fill="#1a1aff"/><circle cx="293.4" cy="44.6" r="1.75" fill="#1a1aff"/><circle cx="295.6" cy="45.8" r="1.75" fill="#1a1aff"/><circle cx="297.6" cy="47.5" r="1.75" fill="#1a1aff"/><circle cx="299.6" cy="50" r="1.75" fill="#1a1aff"/><circle cx="301.8" cy="58" r="1.75" fill="#1a1aff"/><circle cx="303.8" cy="66.5" r="1.75" fill="#1a1aff"/><circle cx="305.5" cy="86" r="1.75" fill="#1a1aff"/><circle cx="306.9" cy="106" r="1.75" fill="#1a1aff"/><circle cx="308.6" cy="120" r="1.75" fill="#1a1aff"/><circle cx="313" cy="129.8" r="1.75" fill="#1a1aff"/><circle cx="323.75" cy="130.2" r="1.75" fill="#1a1aff"/><circle cx="333.75" cy="130.3" r="1.75" fill="#1a1aff"/><circle cx="353.6" cy="130.3" r="1.75" fill="#1a1aff"/><circle cx="289" cy="47.3" r="1.75" fill="#1a1aff"/><circle cx="292" cy="51" r="1.75" fill="#1a1aff"/><circle cx="293.8" cy="53" r="1.75" fill="#1a1aff"/><circle cx="295.4" cy="61" r="1.75" fill="#1a1aff"/><circle cx="297.5" cy="72" r="1.75" fill="#1a1aff"/><circle cx="299.4" cy="91.7" r="1.75" fill="#1a1aff"/><circle cx="300.8" cy="110.6" r="1.75" fill="#1a1aff"/><circle cx="302.2" cy="121" r="1.75" fill="#1a1aff"/><circle cx="304.5" cy="127.5" r="1.75" fill="#1a1aff"/><circle cx="333.75" cy="130.3" r="1.75" fill="#1a1aff"/><circle cx="353.6" cy="130.3" r="1.75" fill="#1a1aff"/>
<text x="388.3" y="15" font-family="Liberation Sans, sans-serif" font-size="7.8" font-weight="bold" fill="#222" stroke="#222" stroke-width="0.25">(c)</text>
<text x="406.5" y="26.50" text-anchor="end" font-family="Liberation Sans, sans-serif" font-size="7.3" fill="#222" stroke="#222" stroke-width="0.25">80</text>
<line x1="409.8" y1="24.20" x2="411.3" y2="24.20" stroke="#333" stroke-width="0.8"/>
<line x1="531.8" y1="24.20" x2="533.3" y2="24.20" stroke="#777" stroke-width="0.8"/>
<text x="406.5" y="49.06" text-anchor="end" font-family="Liberation Sans, sans-serif" font-size="7.3" fill="#222" stroke="#222" stroke-width="0.25">75</text>
<line x1="409.8" y1="46.76" x2="411.3" y2="46.76" stroke="#333" stroke-width="0.8"/>
<line x1="531.8" y1="46.76" x2="533.3" y2="46.76" stroke="#777" stroke-width="0.8"/>
<text x="406.5" y="71.62" text-anchor="end" font-family="Liberation Sans, sans-serif" font-size="7.3" fill="#222" stroke="#222" stroke-width="0.25">70</text>
<line x1="409.8" y1="69.32" x2="411.3" y2="69.32" stroke="#333" stroke-width="0.8"/>
<line x1="531.8" y1="69.32" x2="533.3" y2="69.32" stroke="#777" stroke-width="0.8"/>
<text x="406.5" y="94.18" text-anchor="end" font-family="Liberation Sans, sans-serif" font-size="7.3" fill="#222" stroke="#222" stroke-width="0.25">65</text>
<line x1="409.8" y1="91.88" x2="411.3" y2="91.88" stroke="#333" stroke-width="0.8"/>
<line x1="531.8" y1="91.88" x2="533.3" y2="91.88" stroke="#777" stroke-width="0.8"/>
<text x="406.5" y="116.74" text-anchor="end" font-family="Liberation Sans, sans-serif" font-size="7.3" fill="#222" stroke="#222" stroke-width="0.25">60</text>
<line x1="409.8" y1="114.44" x2="411.3" y2="114.44" stroke="#333" stroke-width="0.8"/>
<line x1="531.8" y1="114.44" x2="533.3" y2="114.44" stroke="#777" stroke-width="0.8"/>
<text x="406.5" y="139.30" text-anchor="end" font-family="Liberation Sans, sans-serif" font-size="7.3" fill="#222" stroke="#222" stroke-width="0.25">55</text>
<line x1="409.8" y1="137.00" x2="411.3" y2="137.00" stroke="#333" stroke-width="0.8"/>
<line x1="531.8" y1="137.00" x2="533.3" y2="137.00" stroke="#777" stroke-width="0.8"/>
<text x="411.30" y="146.3" text-anchor="middle" font-family="Liberation Sans, sans-serif" font-size="7.3" fill="#222" stroke="#222" stroke-width="0.25">0</text>
<line x1="411.30" y1="24.2" x2="411.30" y2="25.7" stroke="#555" stroke-width="0.8"/>
<line x1="411.30" y1="137.0" x2="411.30" y2="138.5" stroke="#333" stroke-width="0.8"/>
<text x="435.50" y="146.3" text-anchor="middle" font-family="Liberation Sans, sans-serif" font-size="7.3" fill="#222" stroke="#222" stroke-width="0.25">4</text>
<line x1="435.50" y1="24.2" x2="435.50" y2="25.7" stroke="#555" stroke-width="0.8"/>
<line x1="435.50" y1="137.0" x2="435.50" y2="138.5" stroke="#333" stroke-width="0.8"/>
<text x="459.70" y="146.3" text-anchor="middle" font-family="Liberation Sans, sans-serif" font-size="7.3" fill="#222" stroke="#222" stroke-width="0.25">8</text>
<line x1="459.70" y1="24.2" x2="459.70" y2="25.7" stroke="#555" stroke-width="0.8"/>
<line x1="459.70" y1="137.0" x2="459.70" y2="138.5" stroke="#333" stroke-width="0.8"/>
<text x="483.90" y="146.3" text-anchor="middle" font-family="Liberation Sans, sans-serif" font-size="7.3" fill="#222" stroke="#222" stroke-width="0.25">12</text>
<line x1="483.90" y1="24.2" x2="483.90" y2="25.7" stroke="#555" stroke-width="0.8"/>
<line x1="483.90" y1="137.0" x2="483.90" y2="138.5" stroke="#333" stroke-width="0.8"/>
<text x="508.10" y="146.3" text-anchor="middle" font-family="Liberation Sans, sans-serif" font-size="7.3" fill="#222" stroke="#222" stroke-width="0.25">16</text>
<line x1="508.10" y1="24.2" x2="508.10" y2="25.7" stroke="#555" stroke-width="0.8"/>
<line x1="508.10" y1="137.0" x2="508.10" y2="138.5" stroke="#333" stroke-width="0.8"/>
<text x="532.30" y="146.3" text-anchor="middle" font-family="Liberation Sans, sans-serif" font-size="7.3" fill="#222" stroke="#222" stroke-width="0.25">20</text>
<line x1="532.30" y1="24.2" x2="532.30" y2="25.7" stroke="#555" stroke-width="0.8"/>
<line x1="532.30" y1="137.0" x2="532.30" y2="138.5" stroke="#333" stroke-width="0.8"/>
<text x="471.5" y="156" text-anchor="middle" font-family="Liberation Sans, sans-serif" font-size="8.3" fill="#222" stroke="#222" stroke-width="0.25">Laser Power (mW)</text>
<text transform="translate(394.5,82) rotate(-90)" text-anchor="middle" font-family="Liberation Sans, sans-serif" font-size="7.5" fill="#222" stroke="#222" stroke-width="0.25">Extinction at 693 nm (%)</text>
<line x1="411.3" y1="24.2" x2="533.3" y2="24.2" stroke="#999" stroke-width="0.9"/>
<line x1="533.3" y1="24.2" x2="533.3" y2="137.0" stroke="#888" stroke-width="0.9"/>
<line x1="411.3" y1="24.2" x2="411.3" y2="137.0" stroke="#333" stroke-width="0.9"/>
<line x1="411.3" y1="137.0" x2="533.3" y2="137.0" stroke="#333" stroke-width="0.9"/>
<g fill="none" stroke="#111" stroke-width="1.1"><path d="M411.30,28.60 L411.81,28.60 L412.31,28.71 L412.82,28.82 L413.33,28.93 L413.83,29.02 L414.34,29.10 L414.84,29.17 L415.35,29.23 L415.86,29.28 L416.36,29.33 L416.87,29.36 L417.38,29.38 L417.88,29.40 L418.39,29.41 L418.89,29.41 L419.40,29.41 L419.91,29.40 L420.41,29.38 L420.92,29.36 L421.43,29.33 L421.93,29.30 L422.44,29.26 L422.94,29.22 L423.45,29.18 L423.96,29.13 L424.46,29.07 L424.97,29.02 L425.48,28.96 L425.98,28.90 L426.49,28.84 L426.99,28.78 L427.50,28.72 L428.01,28.66 L428.51,28.60 L429.02,28.60 L429.53,28.60 L430.03,28.60 L430.54,28.60 L431.04,28.60 L431.55,28.60 L432.06,28.60 L432.56,28.60 L433.07,28.60 L433.58,28.60 L434.08,28.60 L434.59,28.60 L435.09,28.60 L435.60,28.60 L436.11,28.60 L436.61,28.60 L437.12,28.60 L437.63,28.60 L438.13,28.60 L438.64,28.60 L439.15,28.60 L439.65,28.60 L440.16,28.60 L440.66,28.60 L441.17,28.60 L441.68,28.60 L442.18,28.60 L442.69,28.60 L443.20,28.60 L443.70,28.60 L444.21,28.74 L444.71,28.91 L445.22,29.10 L445.73,29.32 L446.23,29.56 L446.74,29.84 L447.25,30.15 L447.75,30.50 L448.26,30.88 L448.76,31.30 L449.27,31.77 L449.78,32.28 L450.28,32.84 L450.79,33.45 L451.30,34.10 L451.80,34.81 L452.31,35.58 L452.81,36.41 L453.32,37.29 L453.83,38.24 L454.33,39.26 L454.84,40.34 L455.35,41.49 L455.85,42.71 L456.36,44.00 L456.86,45.37 L457.37,46.82 L457.88,48.35 L458.38,49.97 L458.89,51.67 L459.40,53.45 L459.90,55.33 L460.41,57.29 L460.92,59.34 L461.42,61.46 L461.93,63.64 L462.43,65.89 L462.94,68.19 L463.45,70.54 L463.95,72.93 L464.46,75.35 L464.97,77.80 L465.47,80.27 L465.98,82.75 L466.48,85.23 L466.99,87.71 L467.50,90.17 L468.00,92.61 L468.51,95.02 L469.02,97.39 L469.52,99.70 L470.03,101.95 L470.53,104.14 L471.04,106.24 L471.55,108.25 L472.05,110.17 L472.56,111.98 L473.07,113.70 L473.57,115.32 L474.08,116.85 L474.58,118.29 L475.09,119.64 L475.60,120.90 L476.10,122.09 L476.61,123.19 L477.12,124.22 L477.62,125.18 L478.13,126.07 L478.63,126.89 L479.14,127.64 L479.65,128.34 L480.15,128.97 L480.66,129.55 L481.17,130.08 L481.67,130.55 L482.18,130.98 L482.68,131.37 L483.19,131.71 L483.70,132.02 L484.20,132.29 L484.71,132.52 L485.22,132.73 L485.72,132.91 L486.23,133.06 L486.74,133.19 L487.24,133.31 L487.75,133.41 L488.25,133.49 L488.76,133.57 L489.27,133.64 L489.77,133.70 L490.28,133.76 L490.79,133.82 L491.29,133.89 L491.80,133.95 L492.30,134.01 L492.81,134.06 L493.32,134.12 L493.82,134.18 L494.33,134.24 L494.84,134.29 L495.34,134.34 L495.85,134.40 L496.35,134.45 L496.86,134.50 L497.37,134.55 L497.87,134.59 L498.38,134.64 L498.89,134.68 L499.39,134.73 L499.90,134.77 L500.40,134.81 L500.91,134.85 L501.42,134.88 L501.92,134.91 L502.43,134.95 L502.94,134.98 L503.44,135.00 L503.95,135.03 L504.45,135.05 L504.96,135.08 L505.47,135.10 L505.97,135.12 L506.48,135.14 L506.99,135.15 L507.49,135.17 L508.00,135.18 L508.51,135.19 L509.01,135.20 L509.52,135.21 L510.02,135.22 L510.53,135.23 L511.04,135.23 L511.54,135.24 L512.05,135.24 L512.56,135.24 L513.06,135.25 L513.57,135.25 L514.07,135.25 L514.58,135.25 L515.09,135.25 L515.59,135.25 L516.10,135.24 L516.61,135.24 L517.11,135.24 L517.62,135.24 L518.12,135.23 L518.63,135.23 L519.14,135.22 L519.64,135.22 L520.15,135.21 L520.66,135.21 L521.16,135.21 L521.67,135.20 L522.17,135.20 L522.68,135.19 L523.19,135.19 L523.69,135.18 L524.20,135.18 L524.71,135.18 L525.21,135.17 L525.72,135.17 L526.22,135.17 L526.73,135.17 L527.24,135.17 L527.74,135.17 L528.25,135.17 L528.76,135.17 L529.26,135.17 L529.77,135.18 L530.27,135.18 L530.78,135.19 L531.29,135.19 L531.79,135.20 L532.30,135.21"/><path d="M411.30,29.08 L411.81,28.96 L412.31,28.85 L412.82,28.75 L413.33,28.66 L413.83,28.60 L414.34,28.60 L414.84,28.60 L415.35,28.60 L415.86,28.60 L416.36,28.60 L416.87,28.60 L417.38,28.60 L417.88,28.60 L418.39,28.60 L418.89,28.60 L419.40,28.60 L419.91,28.60 L420.41,28.60 L420.92,28.60 L421.43,28.60 L421.93,28.60 L422.44,28.60 L422.94,28.60 L423.45,28.60 L423.96,28.60 L424.46,28.65 L424.97,28.71 L425.48,28.76 L425.98,28.81 L426.49,28.87 L426.99,28.93 L427.50,28.98 L428.01,29.04 L428.51,29.09 L429.02,29.15 L429.53,29.20 L430.03,29.25 L430.54,29.29 L431.04,29.34 L431.55,29.38 L432.06,29.42 L432.56,29.45 L433.07,29.48 L433.58,29.50 L434.08,29.52 L434.59,29.53 L435.09,29.54 L435.60,29.54 L436.11,29.53 L436.61,29.52 L437.12,29.50 L437.63,29.47 L438.13,29.43 L438.64,29.38 L439.15,29.33 L439.65,29.26 L440.16,29.18 L440.66,29.10 L441.17,29.00 L441.68,28.89 L442.18,28.77 L442.69,28.64 L443.20,28.60 L443.70,28.60 L444.21,28.60 L444.71,28.60 L445.22,28.60 L445.73,28.60 L446.23,28.60 L446.74,28.60 L447.25,28.60 L447.75,28.60 L448.26,28.60 L448.76,28.60 L449.27,28.60 L449.78,28.60 L450.28,28.60 L450.79,28.60 L451.30,28.60 L451.80,28.60 L452.31,28.60 L452.81,28.60 L453.32,28.60 L453.83,28.60 L454.33,28.60 L454.84,28.60 L455.35,28.89 L455.85,29.32 L456.36,29.82 L456.86,30.39 L457.37,31.04 L457.88,31.78 L458.38,32.61 L458.89,33.55 L459.40,34.58 L459.90,35.73 L460.41,37.00 L460.92,38.37 L461.42,39.84 L461.93,41.39 L462.43,43.03 L462.94,44.75 L463.45,46.53 L463.95,48.37 L464.46,50.26 L464.97,52.20 L465.47,54.17 L465.98,56.17 L466.48,58.19 L466.99,60.23 L467.50,62.28 L468.00,64.33 L468.51,66.38 L469.02,68.43 L469.52,70.46 L470.03,72.48 L470.53,74.47 L471.04,76.44 L471.55,78.38 L472.05,80.27 L472.56,82.12 L473.07,83.93 L473.57,85.71 L474.08,87.44 L474.58,89.13 L475.09,90.78 L475.60,92.39 L476.10,93.97 L476.61,95.50 L477.12,97.00 L477.62,98.46 L478.13,99.89 L478.63,101.28 L479.14,102.63 L479.65,103.95 L480.15,105.23 L480.66,106.48 L481.17,107.69 L481.67,108.87 L482.18,110.02 L482.68,111.14 L483.19,112.22 L483.70,113.27 L484.20,114.29 L484.71,115.28 L485.22,116.24 L485.72,117.17 L486.23,118.07 L486.74,118.94 L487.24,119.79 L487.75,120.60 L488.25,121.39 L488.76,122.15 L489.27,122.88 L489.77,123.59 L490.28,124.27 L490.79,124.93 L491.29,125.56 L491.80,126.16 L492.30,126.75 L492.81,127.30 L493.32,127.84 L493.82,128.35 L494.33,128.84 L494.84,129.31 L495.34,129.76 L495.85,130.19 L496.35,130.60 L496.86,130.98 L497.37,131.35 L497.87,131.70 L498.38,132.03 L498.89,132.34 L499.39,132.63 L499.90,132.91 L500.40,133.17 L500.91,133.41 L501.42,133.64 L501.92,133.85 L502.43,134.05 L502.94,134.23 L503.44,134.40 L503.95,134.56 L504.45,134.70 L504.96,134.83 L505.47,134.95 L505.97,135.05 L506.48,135.15 L506.99,135.23 L507.49,135.30 L508.00,135.37 L508.51,135.40 L509.01,135.40 L509.52,135.40 L510.02,135.40 L510.53,135.40 L511.04,135.40 L511.54,135.40 L512.05,135.40 L512.56,135.40 L513.06,135.40 L513.57,135.40 L514.07,135.40 L514.58,135.40 L515.09,135.40 L515.59,135.40 L516.10,135.38 L516.61,135.34 L517.11,135.30 L517.62,135.26 L518.12,135.22 L518.63,135.18 L519.14,135.13 L519.64,135.09 L520.15,135.05 L520.66,135.01 L521.16,134.97 L521.67,134.93 L522.17,134.90 L522.68,134.87 L523.19,134.84 L523.69,134.82 L524.20,134.80 L524.71,134.79 L525.21,134.78 L525.72,134.78 L526.22,134.78 L526.73,134.79 L527.24,134.81 L527.74,134.84 L528.25,134.87 L528.76,134.91 L529.26,134.96 L529.77,135.03 L530.27,135.10 L530.78,135.18 L531.29,135.27 L531.79,135.37 L532.30,135.40"/></g>
<circle cx="411.30" cy="28.80" r="1.5" fill="#111"/><circle cx="417.35" cy="28.80" r="1.5" fill="#111"/><circle cx="423.40" cy="28.80" r="1.5" fill="#111"/><circle cx="429.45" cy="28.80" r="1.5" fill="#111"/><circle cx="435.50" cy="28.80" r="1.5" fill="#111"/><circle cx="441.55" cy="28.80" r="1.5" fill="#111"/><circle cx="447.60" cy="28.80" r="1.5" fill="#111"/><circle cx="453.65" cy="36.80" r="1.5" fill="#111"/><circle cx="459.70" cy="57.50" r="1.5" fill="#111"/><circle cx="465.75" cy="78.90" r="1.5" fill="#111"/><circle cx="471.80" cy="111.00" r="1.5" fill="#111"/><circle cx="477.85" cy="125.40" r="1.5" fill="#111"/><circle cx="483.90" cy="131.80" r="1.5" fill="#111"/><circle cx="489.95" cy="133.60" r="1.5" fill="#111"/><circle cx="496.00" cy="134.50" r="1.5" fill="#111"/><circle cx="502.05" cy="135.00" r="1.5" fill="#111"/><circle cx="508.10" cy="135.20" r="1.5" fill="#111"/><circle cx="514.15" cy="135.20" r="1.5" fill="#111"/><circle cx="520.20" cy="135.20" r="1.5" fill="#111"/><circle cx="526.25" cy="135.20" r="1.5" fill="#111"/><circle cx="532.30" cy="135.20" r="1.5" fill="#111"/><circle cx="411.30" cy="28.80" r="1.5" fill="#111"/><circle cx="417.35" cy="28.80" r="1.5" fill="#111"/><circle cx="423.40" cy="28.80" r="1.5" fill="#111"/><circle cx="429.45" cy="28.80" r="1.5" fill="#111"/><circle cx="435.50" cy="28.80" r="1.5" fill="#111"/><circle cx="441.55" cy="28.80" r="1.5" fill="#111"/><circle cx="447.60" cy="28.80" r="1.5" fill="#111"/><circle cx="453.65" cy="28.80" r="1.5" fill="#111"/><circle cx="459.70" cy="31.80" r="1.5" fill="#111"/><circle cx="465.75" cy="56.80" r="1.5" fill="#111"/><circle cx="471.80" cy="80.70" r="1.5" fill="#111"/><circle cx="477.85" cy="97.90" r="1.5" fill="#111"/><circle cx="483.90" cy="114.60" r="1.5" fill="#111"/><circle cx="489.95" cy="122.50" r="1.5" fill="#111"/><circle cx="496.00" cy="130.70" r="1.5" fill="#111"/><circle cx="502.05" cy="134.30" r="1.5" fill="#111"/><circle cx="508.10" cy="135.20" r="1.5" fill="#111"/><circle cx="514.15" cy="135.20" r="1.5" fill="#111"/><circle cx="520.20" cy="135.20" r="1.5" fill="#111"/><circle cx="526.25" cy="135.20" r="1.5" fill="#111"/><circle cx="532.30" cy="135.20" r="1.5" fill="#111"/>
<defs>
<clipPath id="cpd"><rect x="14.7" y="172" width="151.3" height="130.3"/></clipPath>
<clipPath id="cpe"><rect x="170.8" y="172" width="150.7" height="129.5"/></clipPath>
<filter id="blur3" x="-30%" y="-30%" width="160%" height="160%"><feGaussianBlur stdDeviation="1.6"/></filter>
<filter id="blur5" x="-30%" y="-30%" width="160%" height="160%"><feGaussianBlur stdDeviation="4"/></filter>
<filter id="blur1" x="-30%" y="-30%" width="160%" height="160%"><feGaussianBlur stdDeviation="0.7"/></filter>
<linearGradient id="beamd" gradientUnits="userSpaceOnUse" x1="50" y1="252.7" x2="81.8" y2="287.3">
 <stop offset="0" stop-color="#f4c4a4"/><stop offset="0.05" stop-color="#f8d2b4"/><stop offset="0.14" stop-color="#fcdfc2"/><stop offset="0.35" stop-color="#fde7c8"/><stop offset="0.6" stop-color="#feeccc"/><stop offset="0.85" stop-color="#fde7ca"/><stop offset="1" stop-color="#f9dccc"/></linearGradient>
<linearGradient id="beame" gradientUnits="userSpaceOnUse" x1="50" y1="252.7" x2="81.8" y2="287.3">
 <stop offset="0" stop-color="#f4d4b0"/><stop offset="0.1" stop-color="#f9dec0"/><stop offset="0.3" stop-color="#fde8d2"/><stop offset="0.55" stop-color="#fff0e0"/><stop offset="0.8" stop-color="#fce6d8"/><stop offset="1" stop-color="#f8dcd0"/></linearGradient>
<linearGradient id="beame2" gradientUnits="userSpaceOnUse" x1="180" y1="290" x2="270" y2="215">
 <stop offset="0" stop-color="#f8d0c0" stop-opacity="0.0"/><stop offset="0.55" stop-color="#f0f0b0" stop-opacity="0.0"/><stop offset="1" stop-color="#d8f8c0" stop-opacity="0.9"/></linearGradient>
<linearGradient id="greenb" gradientUnits="userSpaceOnUse" x1="0" y1="205" x2="0" y2="231">
 <stop offset="0" stop-color="#9cecc6"/><stop offset="0.5" stop-color="#c4fae0"/><stop offset="1" stop-color="#9cecc6"/></linearGradient>
<linearGradient id="din" gradientUnits="userSpaceOnUse" x1="112" y1="185" x2="152" y2="236">
 <stop offset="0" stop-color="#c81c1c"/><stop offset="0.35" stop-color="#f03a3a"/><stop offset="1" stop-color="#ff4646"/></linearGradient>
<linearGradient id="ein" gradientUnits="userSpaceOnUse" x1="112" y1="185" x2="152" y2="236">
 <stop offset="0" stop-color="#302840"/><stop offset="0.15" stop-color="#1c78d8"/><stop offset="0.35" stop-color="#1aa0f2"/><stop offset="0.65" stop-color="#38c8f4"/><stop offset="0.88" stop-color="#30e090"/><stop offset="1" stop-color="#30e860"/></linearGradient>
<radialGradient id="insd" cx="0.55" cy="0.35" r="0.7">
 <stop offset="0" stop-color="#fffdf6"/><stop offset="0.6" stop-color="#f2ece8"/><stop offset="1" stop-color="#e2d8dc"/></radialGradient>
<radialGradient id="inse" cx="0.55" cy="0.35" r="0.7">
 <stop offset="0" stop-color="#fdfff8"/><stop offset="0.6" stop-color="#eef4ee"/><stop offset="1" stop-color="#dce6e0"/></radialGradient>
<radialGradient id="dotd" cx="0.45" cy="0.45" r="0.6"><stop offset="0" stop-color="#b060d8"/><stop offset="0.6" stop-color="#8a38b0"/><stop offset="1" stop-color="#5a1a78"/></radialGradient>
<radialGradient id="dote" cx="0.45" cy="0.45" r="0.6"><stop offset="0" stop-color="#3aa070"/><stop offset="0.6" stop-color="#1a7444"/><stop offset="1" stop-color="#0c4a28"/></radialGradient>
<linearGradient id="gstbar" x1="0" y1="0" x2="1" y2="0">
 <stop offset="0" stop-color="#b464b4"/><stop offset="0.45" stop-color="#7a6c98"/><stop offset="1" stop-color="#1a8a50"/></linearGradient>
<linearGradient id="fshade" x1="0" y1="0" x2="1" y2="0">
 <stop offset="0" stop-color="#f2e6f0"/><stop offset="0.4" stop-color="#e2e8ec"/><stop offset="1" stop-color="#c8e8d6"/></linearGradient>
<linearGradient id="pumpg" x1="0" y1="0" x2="1" y2="0">
 <stop offset="0" stop-color="#22b07e"/><stop offset="0.6" stop-color="#38cc94"/><stop offset="1" stop-color="#48d8a0"/></linearGradient>
</defs>
<rect x="14.7" y="172" width="151.3" height="130.3" fill="#cbcbcb"/>
<g clip-path="url(#cpd)">
<polygon points="0,290 132,191.6 140,212 131,232 66.1,305 0,305" fill="url(#beamd)" filter="url(#blur3)"/>
<ellipse cx="108" cy="228" rx="16" ry="13" transform="rotate(-40 108 228)" fill="#fff4e8" fill-opacity="0.3" filter="url(#blur5)"/>
<polygon points="105.50,178.00 162.00,190.80 159.20,242.60 102.70,229.80" fill="#221a1a" stroke="#221a1a" stroke-width="1.2" stroke-linejoin="round"/><g fill="#6e605c"><polygon points="109.31,178.86 110.38,179.11 110.23,181.96 109.16,181.71"/><polygon points="106.66,227.81 107.74,228.06 107.58,230.91 106.51,230.66"/><polygon points="105.31,181.49 108.42,182.20 108.37,183.18 105.26,182.48"/><polygon points="158.70,193.59 161.81,194.29 161.76,195.28 158.65,194.57"/><polygon points="111.22,179.30 112.30,179.54 112.14,182.39 111.07,182.15"/><polygon points="108.58,228.25 109.65,228.49 109.50,231.34 108.42,231.10"/><polygon points="105.22,183.25 108.32,183.95 108.27,184.93 105.16,184.23"/><polygon points="158.61,195.34 161.72,196.05 161.66,197.03 158.56,196.33"/><polygon points="113.13,179.73 114.21,179.97 114.05,182.82 112.98,182.58"/><polygon points="110.49,228.68 111.56,228.92 111.41,231.77 110.33,231.53"/><polygon points="105.12,185.00 108.23,185.70 108.18,186.69 105.07,185.98"/><polygon points="158.51,197.09 161.62,197.80 161.57,198.78 158.46,198.08"/><polygon points="115.05,180.16 116.12,180.41 115.97,183.25 114.89,183.01"/><polygon points="112.40,229.11 113.47,229.36 113.32,232.21 112.25,231.96"/><polygon points="105.03,186.75 108.13,187.46 108.08,188.44 104.97,187.74"/><polygon points="158.42,198.85 161.53,199.55 161.47,200.54 158.37,199.83"/><polygon points="116.96,180.60 118.03,180.84 117.88,183.69 116.80,183.44"/><polygon points="114.31,229.55 115.39,229.79 115.23,232.64 114.16,232.40"/><polygon points="104.93,188.51 108.04,189.21 107.99,190.19 104.88,189.49"/><polygon points="158.32,200.60 161.43,201.31 161.38,202.29 158.27,201.59"/><polygon points="118.87,181.03 119.94,181.27 119.79,184.12 118.72,183.88"/><polygon points="116.22,229.98 117.30,230.22 117.14,233.07 116.07,232.83"/><polygon points="104.84,190.26 107.94,190.96 107.89,191.95 104.78,191.24"/><polygon points="158.23,202.35 161.34,203.06 161.28,204.04 158.18,203.34"/><polygon points="120.78,181.46 121.86,181.71 121.70,184.55 120.63,184.31"/><polygon points="118.14,230.41 119.21,230.66 119.06,233.51 117.98,233.26"/><polygon points="104.74,192.01 107.85,192.72 107.80,193.70 104.69,193.00"/><polygon points="158.14,204.11 161.24,204.81 161.19,205.80 158.08,205.09"/><polygon points="122.70,181.90 123.77,182.14 123.62,184.99 122.54,184.74"/><polygon points="120.05,230.85 121.12,231.09 120.97,233.94 119.90,233.70"/><polygon points="104.65,193.77 107.76,194.47 107.70,195.45 104.59,194.75"/><polygon points="158.04,205.86 161.15,206.57 161.09,207.55 157.99,206.85"/><polygon points="124.61,182.33 125.68,182.57 125.53,185.42 124.45,185.18"/><polygon points="121.96,231.28 123.04,231.52 122.88,234.37 121.81,234.13"/><polygon points="104.55,195.52 107.66,196.22 107.61,197.21 104.50,196.50"/><polygon points="157.95,207.61 161.05,208.32 161.00,209.30 157.89,208.60"/><polygon points="126.52,182.76 127.59,183.01 127.44,185.85 126.37,185.61"/><polygon points="123.87,231.71 124.95,231.96 124.79,234.81 123.72,234.56"/><polygon points="104.46,197.27 107.57,197.98 107.51,198.96 104.41,198.26"/><polygon points="157.85,209.37 160.96,210.07 160.91,211.06 157.80,210.35"/><polygon points="128.43,183.20 129.51,183.44 129.35,186.29 128.28,186.04"/><polygon points="125.79,232.15 126.86,232.39 126.71,235.24 125.63,235.00"/><polygon points="104.36,199.02 107.47,199.73 107.42,200.71 104.31,200.01"/><polygon points="157.76,211.12 160.86,211.82 160.81,212.81 157.70,212.11"/><polygon points="130.34,183.63 131.42,183.87 131.26,186.72 130.19,186.48"/><polygon points="127.70,232.58 128.77,232.82 128.62,235.67 127.54,235.43"/><polygon points="104.27,200.78 107.38,201.48 107.32,202.47 104.22,201.76"/><polygon points="157.66,212.87 160.77,213.58 160.72,214.56 157.61,213.86"/><polygon points="132.26,184.06 133.33,184.30 133.18,187.15 132.10,186.91"/><polygon points="129.61,233.01 130.68,233.26 130.53,236.10 129.46,235.86"/><polygon points="104.17,202.53 107.28,203.24 107.23,204.22 104.12,203.52"/><polygon points="157.57,214.63 160.67,215.33 160.62,216.32 157.51,215.61"/><polygon points="134.17,184.50 135.24,184.74 135.09,187.59 134.02,187.34"/><polygon points="131.52,233.45 132.60,233.69 132.44,236.54 131.37,236.30"/><polygon points="104.08,204.28 107.19,204.99 107.13,205.97 104.03,205.27"/><polygon points="157.47,216.38 160.58,217.08 160.53,218.07 157.42,217.36"/><polygon points="136.08,184.93 137.16,185.17 137.00,188.02 135.93,187.78"/><polygon points="133.44,233.88 134.51,234.12 134.36,236.97 133.28,236.73"/><polygon points="103.98,206.04 107.09,206.74 107.04,207.73 103.93,207.02"/><polygon points="157.38,218.13 160.48,218.84 160.43,219.82 157.32,219.12"/><polygon points="137.99,185.36 139.07,185.60 138.91,188.45 137.84,188.21"/><polygon points="135.35,234.31 136.42,234.56 136.27,237.40 135.19,237.16"/><polygon points="103.89,207.79 107.00,208.49 106.94,209.48 103.84,208.78"/><polygon points="157.28,219.89 160.39,220.59 160.34,221.58 157.23,220.87"/><polygon points="139.91,185.79 140.98,186.04 140.83,188.89 139.75,188.64"/><polygon points="137.26,234.75 138.33,234.99 138.18,237.84 137.11,237.59"/><polygon points="103.79,209.54 106.90,210.25 106.85,211.23 103.74,210.53"/><polygon points="157.19,221.64 160.29,222.34 160.24,223.33 157.13,222.62"/><polygon points="141.82,186.23 142.89,186.47 142.74,189.32 141.66,189.08"/><polygon points="139.17,235.18 140.25,235.42 140.09,238.27 139.02,238.03"/><polygon points="103.70,211.30 106.81,212.00 106.75,212.99 103.65,212.28"/><polygon points="157.09,223.39 160.20,224.10 160.15,225.08 157.04,224.38"/><polygon points="143.73,186.66 144.80,186.90 144.65,189.75 143.58,189.51"/><polygon points="141.08,235.61 142.16,235.86 142.00,238.70 140.93,238.46"/><polygon points="103.61,213.05 106.71,213.75 106.66,214.74 103.55,214.03"/><polygon points="157.00,225.15 160.11,225.85 160.05,226.83 156.94,226.13"/><polygon points="145.64,187.09 146.72,187.34 146.56,190.19 145.49,189.94"/><polygon points="143.00,236.05 144.07,236.29 143.92,239.14 142.84,238.89"/><polygon points="103.51,214.80 106.62,215.51 106.56,216.49 103.46,215.79"/><polygon points="156.90,226.90 160.01,227.60 159.96,228.59 156.85,227.88"/><polygon points="147.56,187.53 148.63,187.77 148.48,190.62 147.40,190.38"/><polygon points="144.91,236.48 145.98,236.72 145.83,239.57 144.76,239.33"/><polygon points="103.42,216.56 106.52,217.26 106.47,218.25 103.36,217.54"/><polygon points="156.81,228.65 159.92,229.36 159.86,230.34 156.76,229.64"/><polygon points="149.47,187.96 150.54,188.20 150.39,191.05 149.31,190.81"/><polygon points="146.82,236.91 147.90,237.16 147.74,240.00 146.67,239.76"/><polygon points="103.32,218.31 106.43,219.01 106.38,220.00 103.27,219.29"/><polygon points="156.71,230.41 159.82,231.11 159.77,232.09 156.66,231.39"/><polygon points="151.38,188.39 152.45,188.64 152.30,191.49 151.23,191.24"/><polygon points="148.73,237.35 149.81,237.59 149.65,240.44 148.58,240.19"/><polygon points="103.23,220.06 106.33,220.77 106.28,221.75 103.17,221.05"/><polygon points="156.62,232.16 159.73,232.86 159.67,233.85 156.57,233.14"/><polygon points="153.29,188.83 154.37,189.07 154.21,191.92 153.14,191.68"/><polygon points="150.65,237.78 151.72,238.02 151.57,240.87 150.49,240.63"/><polygon points="103.13,221.82 106.24,222.52 106.19,223.51 103.08,222.80"/><polygon points="156.52,233.91 159.63,234.62 159.58,235.60 156.47,234.90"/><polygon points="155.20,189.26 156.28,189.50 156.12,192.35 155.05,192.11"/><polygon points="152.56,238.21 153.63,238.45 153.48,241.30 152.40,241.06"/><polygon points="103.04,223.57 106.14,224.27 106.09,225.26 102.98,224.55"/><polygon points="156.43,235.67 159.54,236.37 159.48,237.35 156.38,236.65"/><polygon points="157.12,189.69 158.19,189.94 158.04,192.79 156.96,192.54"/><polygon points="154.47,238.64 155.54,238.89 155.39,241.74 154.32,241.49"/><polygon points="102.94,225.32 106.05,226.03 106.00,227.01 102.89,226.31"/><polygon points="156.33,237.42 159.44,238.12 159.39,239.11 156.28,238.40"/></g><polygon points="109.26,182.52 157.85,193.53 155.44,238.08 106.85,227.07" fill="#eedcb0"/><g fill="#6a4a30" fill-opacity="0.55"><polygon points="111.31,184.04 111.99,184.19 111.89,186.00 111.21,185.85"/><polygon points="109.11,224.70 109.79,224.85 109.69,226.67 109.02,226.51"/><polygon points="110.28,184.71 112.26,185.16 112.23,185.78 110.25,185.33"/><polygon points="154.64,194.76 156.61,195.21 156.58,195.83 154.60,195.38"/><polygon points="112.82,184.38 113.50,184.53 113.40,186.34 112.72,186.19"/><polygon points="110.62,225.04 111.30,225.19 111.20,227.01 110.52,226.85"/><polygon points="110.21,186.09 112.19,186.54 112.15,187.16 110.18,186.71"/><polygon points="154.56,196.14 156.54,196.59 156.51,197.21 154.53,196.76"/><polygon points="114.33,184.72 115.00,184.87 114.91,186.69 114.23,186.53"/><polygon points="112.13,225.38 112.81,225.54 112.71,227.35 112.03,227.19"/><polygon points="110.14,187.47 112.11,187.92 112.08,188.54 110.10,188.10"/><polygon points="154.49,197.52 156.47,197.97 156.43,198.59 154.45,198.14"/><polygon points="115.83,185.06 116.51,185.21 116.41,187.03 115.73,186.87"/><polygon points="113.63,225.72 114.31,225.88 114.21,227.69 113.54,227.54"/><polygon points="110.06,188.86 112.04,189.30 112.00,189.93 110.03,189.48"/><polygon points="154.41,198.90 156.39,199.35 156.36,199.97 154.38,199.53"/><polygon points="117.34,185.40 118.02,185.55 117.92,187.37 117.24,187.21"/><polygon points="115.14,226.06 115.82,226.22 115.72,228.03 115.04,227.88"/><polygon points="109.99,190.24 111.96,190.69 111.93,191.31 109.95,190.86"/><polygon points="154.34,200.29 156.32,200.73 156.28,201.35 154.30,200.91"/><polygon points="118.85,185.74 119.52,185.90 119.43,187.71 118.75,187.56"/><polygon points="116.65,226.41 117.33,226.56 117.23,228.37 116.55,228.22"/><polygon points="109.91,191.62 111.89,192.07 111.86,192.69 109.88,192.24"/><polygon points="154.26,201.67 156.24,202.11 156.21,202.74 154.23,202.29"/><polygon points="120.35,186.08 121.03,186.24 120.93,188.05 120.25,187.90"/><polygon points="118.15,226.75 118.83,226.90 118.73,228.71 118.06,228.56"/><polygon points="109.84,193.00 111.81,193.45 111.78,194.07 109.80,193.62"/><polygon points="154.19,203.05 156.17,203.50 156.13,204.12 154.16,203.67"/><polygon points="121.86,186.43 122.54,186.58 122.44,188.39 121.76,188.24"/><polygon points="119.66,227.09 120.34,227.24 120.24,229.05 119.56,228.90"/><polygon points="109.76,194.38 111.74,194.83 111.71,195.45 109.73,195.00"/><polygon points="154.11,204.43 156.09,204.88 156.06,205.50 154.08,205.05"/><polygon points="123.37,186.77 124.04,186.92 123.95,188.73 123.27,188.58"/><polygon points="121.17,227.43 121.85,227.58 121.75,229.40 121.07,229.24"/><polygon points="109.69,195.76 111.66,196.21 111.63,196.83 109.65,196.38"/><polygon points="154.04,205.81 156.02,206.26 155.98,206.88 154.01,206.43"/><polygon points="124.87,187.11 125.55,187.26 125.45,189.07 124.77,188.92"/><polygon points="122.67,227.77 123.35,227.92 123.25,229.74 122.58,229.58"/><polygon points="109.61,197.14 111.59,197.59 111.56,198.21 109.58,197.77"/><polygon points="153.96,207.19 155.94,207.64 155.91,208.26 153.93,207.81"/><polygon points="126.38,187.45 127.06,187.60 126.96,189.42 126.28,189.26"/><polygon points="124.18,228.11 124.86,228.27 124.76,230.08 124.08,229.93"/><polygon points="109.54,198.53 111.52,198.97 111.48,199.59 109.50,199.15"/><polygon points="153.89,208.57 155.87,209.02 155.83,209.64 153.86,209.19"/><polygon points="127.89,187.79 128.56,187.94 128.47,189.76 127.79,189.60"/><polygon points="125.69,228.45 126.37,228.61 126.27,230.42 125.59,230.27"/><polygon points="109.46,199.91 111.44,200.35 111.41,200.98 109.43,200.53"/><polygon points="153.82,209.95 155.79,210.40 155.76,211.02 153.78,210.58"/><polygon points="129.39,188.13 130.07,188.29 129.97,190.10 129.29,189.94"/><polygon points="127.19,228.79 127.87,228.95 127.77,230.76 127.10,230.61"/><polygon points="109.39,201.29 111.37,201.74 111.33,202.36 109.35,201.91"/><polygon points="153.74,211.34 155.72,211.78 155.68,212.41 153.71,211.96"/><polygon points="130.90,188.47 131.58,188.63 131.48,190.44 130.80,190.29"/><polygon points="128.70,229.14 129.38,229.29 129.28,231.10 128.60,230.95"/><polygon points="109.31,202.67 111.29,203.12 111.26,203.74 109.28,203.29"/><polygon points="153.67,212.72 155.64,213.17 155.61,213.79 153.63,213.34"/><polygon points="132.41,188.81 133.08,188.97 132.99,190.78 132.31,190.63"/><polygon points="130.21,229.48 130.89,229.63 130.79,231.44 130.11,231.29"/><polygon points="109.24,204.05 111.22,204.50 111.18,205.12 109.21,204.67"/><polygon points="153.59,214.10 155.57,214.55 155.54,215.17 153.56,214.72"/><polygon points="133.91,189.16 134.59,189.31 134.49,191.12 133.81,190.97"/><polygon points="131.71,229.82 132.39,229.97 132.29,231.79 131.62,231.63"/><polygon points="109.16,205.43 111.14,205.88 111.11,206.50 109.13,206.05"/><polygon points="153.52,215.48 155.49,215.93 155.46,216.55 153.48,216.10"/><polygon points="135.42,189.50 136.10,189.65 136.00,191.46 135.32,191.31"/><polygon points="133.22,230.16 133.90,230.31 133.80,232.13 133.12,231.97"/><polygon points="109.09,206.81 111.07,207.26 111.03,207.88 109.06,207.43"/><polygon points="153.44,216.86 155.42,217.31 155.39,217.93 153.41,217.48"/><polygon points="136.93,189.84 137.60,189.99 137.51,191.81 136.83,191.65"/><polygon points="134.73,230.50 135.41,230.66 135.31,232.47 134.63,232.31"/><polygon points="109.02,208.19 110.99,208.64 110.96,209.26 108.98,208.82"/><polygon points="153.37,218.24 155.35,218.69 155.31,219.31 153.33,218.86"/><polygon points="138.43,190.18 139.11,190.33 139.01,192.15 138.33,191.99"/><polygon points="136.23,230.84 136.91,231.00 136.81,232.81 136.14,232.66"/><polygon points="108.94,209.58 110.92,210.02 110.88,210.65 108.91,210.20"/><polygon points="153.29,219.62 155.27,220.07 155.24,220.69 153.26,220.25"/><polygon points="139.94,190.52 140.62,190.67 140.52,192.49 139.84,192.33"/><polygon points="137.74,231.18 138.42,231.34 138.32,233.15 137.64,233.00"/><polygon points="108.87,210.96 110.84,211.41 110.81,212.03 108.83,211.58"/><polygon points="153.22,221.01 155.20,221.45 155.16,222.07 153.18,221.63"/><polygon points="141.45,190.86 142.12,191.02 142.03,192.83 141.35,192.68"/><polygon points="139.25,231.53 139.93,231.68 139.83,233.49 139.15,233.34"/><polygon points="108.79,212.34 110.77,212.79 110.74,213.41 108.76,212.96"/><polygon points="153.14,222.39 155.12,222.83 155.09,223.46 153.11,223.01"/><polygon points="142.95,191.20 143.63,191.36 143.53,193.17 142.85,193.02"/><polygon points="140.75,231.87 141.43,232.02 141.33,233.83 140.66,233.68"/><polygon points="108.72,213.72 110.69,214.17 110.66,214.79 108.68,214.34"/><polygon points="153.07,223.77 155.05,224.22 155.01,224.84 153.04,224.39"/><polygon points="144.46,191.55 145.14,191.70 145.04,193.51 144.36,193.36"/><polygon points="142.26,232.21 142.94,232.36 142.84,234.17 142.16,234.02"/><polygon points="108.64,215.10 110.62,215.55 110.59,216.17 108.61,215.72"/><polygon points="152.99,225.15 154.97,225.60 154.94,226.22 152.96,225.77"/><polygon points="145.97,191.89 146.64,192.04 146.55,193.85 145.87,193.70"/><polygon points="143.77,232.55 144.45,232.70 144.35,234.52 143.67,234.36"/><polygon points="108.57,216.48 110.54,216.93 110.51,217.55 108.53,217.10"/><polygon points="152.92,226.53 154.90,226.98 154.86,227.60 152.89,227.15"/><polygon points="147.47,192.23 148.15,192.38 148.05,194.19 147.37,194.04"/><polygon points="145.27,232.89 145.95,233.04 145.85,234.86 145.18,234.70"/><polygon points="108.49,217.86 110.47,218.31 110.44,218.93 108.46,218.49"/><polygon points="152.84,227.91 154.82,228.36 154.79,228.98 152.81,228.53"/><polygon points="148.98,192.57 149.66,192.72 149.56,194.54 148.88,194.38"/><polygon points="146.78,233.23 147.46,233.39 147.36,235.20 146.68,235.05"/><polygon points="108.42,219.25 110.40,219.69 110.36,220.31 108.38,219.87"/><polygon points="152.77,229.29 154.75,229.74 154.71,230.36 152.74,229.91"/><polygon points="150.49,192.91 151.16,193.06 151.07,194.88 150.39,194.72"/><polygon points="148.29,233.57 148.97,233.73 148.87,235.54 148.19,235.39"/><polygon points="108.34,220.63 110.32,221.07 110.29,221.70 108.31,221.25"/><polygon points="152.70,230.67 154.67,231.12 154.64,231.74 152.66,231.30"/><polygon points="151.99,193.25 152.67,193.41 152.57,195.22 151.89,195.06"/><polygon points="149.79,233.91 150.47,234.07 150.37,235.88 149.70,235.73"/><polygon points="108.27,222.01 110.25,222.46 110.21,223.08 108.23,222.63"/><polygon points="152.62,232.06 154.60,232.50 154.56,233.13 152.59,232.68"/><polygon points="153.50,193.59 154.18,193.75 154.08,195.56 153.40,195.41"/><polygon points="151.30,234.26 151.98,234.41 151.88,236.22 151.20,236.07"/><polygon points="108.19,223.39 110.17,223.84 110.14,224.46 108.16,224.01"/><polygon points="152.55,233.44 154.52,233.89 154.49,234.51 152.51,234.06"/><polygon points="155.01,193.93 155.68,194.09 155.59,195.90 154.91,195.75"/><polygon points="152.81,234.60 153.49,234.75 153.39,236.56 152.71,236.41"/><polygon points="108.12,224.77 110.10,225.22 110.06,225.84 108.09,225.39"/><polygon points="152.47,234.82 154.45,235.27 154.42,235.89 152.44,235.44"/></g><polygon points="112.75,186.72 153.99,196.06 151.95,233.88 110.71,224.54" fill="#a01c1c"/><polygon points="114.63,188.98 151.92,197.43 150.07,231.62 112.78,223.17" fill="url(#din)"/><polygon points="119.35,196.87 146.47,203.01 145.46,221.66 118.34,215.52" fill="#f46a7a" stroke="#ff9aa6" stroke-width="0.6"/><polygon points="118.34,215.52 146.47,203.01 145.46,221.66" fill="#f8808e"/><circle cx="112.48" cy="186.40" r="0.9" fill="#1a1010"/><circle cx="154.29" cy="195.87" r="0.9" fill="#1a1010"/><circle cx="152.22" cy="234.20" r="0.9" fill="#1a1010"/><circle cx="110.41" cy="224.73" r="0.9" fill="#1a1010"/><text x="135.12" y="224.46" font-family="Liberation Sans, sans-serif" font-size="7.5" fill="#111" stroke="#111" stroke-width="0.25">λ</text><text x="139.12" y="225.96" font-family="Liberation Sans, sans-serif" font-size="3.5" fill="#111" stroke="#111" stroke-width="0.25">1</text>
<polygon points="96,216 134,189 147,202 141,234 121,250 100,256" fill="#ffbca4" fill-opacity="0.72" filter="url(#blur3)"/>
<polygon points="96,226 116,212 128,234 110,254 96,256" fill="#fde6d2" fill-opacity="0.6" filter="url(#blur3)"/>
<ellipse cx="109.8" cy="229.5" rx="22.2" ry="32.7" transform="rotate(-38.7 109.8 229.5)" fill="#ffffff" fill-opacity="0.2" stroke="#c4c4c4" stroke-width="0.5"/>
<clipPath id="arcclip"><polygon points="70,222 84,222 96,238 104,260 70,260"/></clipPath><ellipse cx="109.8" cy="229.5" rx="22.2" ry="32.7" transform="rotate(-38.7 109.8 229.5)" fill="none" stroke="#b07858" stroke-width="0.6" clip-path="url(#arcclip)"/>
<polyline points="107.3,259.6 117.3,244.2" fill="none" stroke="#555" stroke-width="0.8"/><polyline points="164,259.6 120,244.2" fill="none" stroke="#555" stroke-width="0.8"/><circle cx="118.7" cy="243.9" r="1.5" fill="#fff" stroke="#555" stroke-width="0.6"/><rect x="107.3" y="259.6" width="56.7" height="39.3" fill="url(#insd)" stroke="#777" stroke-width="0.8"/><ellipse cx="111.6" cy="265.4" rx="0.87" ry="1.48" fill="url(#dotd)"/><ellipse cx="119.4" cy="265.4" rx="1.14" ry="1.76" fill="url(#dotd)"/><ellipse cx="129.0" cy="265.0" rx="1.46" ry="2.10" fill="#e8c0d0"/><ellipse cx="141.9" cy="264.5" rx="1.90" ry="2.57" fill="url(#dotd)"/><ellipse cx="159.5" cy="263.4" rx="2.50" ry="3.20" fill="url(#dotd)"/><ellipse cx="108.0" cy="274.0" rx="0.75" ry="1.35" fill="url(#dotd)"/><ellipse cx="115.4" cy="274.0" rx="1.00" ry="1.62" fill="url(#dotd)"/><ellipse cx="124.0" cy="274.5" rx="1.29" ry="1.92" fill="url(#dotd)"/><ellipse cx="135.5" cy="275.8" rx="1.68" ry="2.34" fill="url(#dotd)"/><ellipse cx="150.2" cy="276.7" rx="2.18" ry="2.87" fill="url(#dotd)"/><ellipse cx="111.6" cy="281.4" rx="0.87" ry="1.48" fill="url(#dotd)"/><ellipse cx="119.4" cy="283.4" rx="1.14" ry="1.76" fill="url(#dotd)"/><ellipse cx="129.4" cy="285.2" rx="1.48" ry="2.12" fill="url(#dotd)"/><ellipse cx="142.1" cy="287.5" rx="1.91" ry="2.57" fill="url(#dotd)"/><ellipse cx="158.9" cy="291.0" rx="2.48" ry="3.18" fill="url(#dotd)"/><ellipse cx="108.0" cy="288.0" rx="0.75" ry="1.35" fill="url(#dotd)"/><ellipse cx="115.4" cy="290.8" rx="1.00" ry="1.62" fill="url(#dotd)"/><ellipse cx="124.0" cy="293.5" rx="1.29" ry="1.92" fill="url(#dotd)"/><ellipse cx="135.5" cy="296.8" rx="1.68" ry="2.34" fill="url(#dotd)"/><ellipse cx="111.6" cy="296.8" rx="0.87" ry="1.48" fill="url(#dotd)"/><ellipse cx="159.5" cy="272.0" rx="0.70" ry="0.90" fill="url(#dotd)"/><text x="144.2" y="271.1" font-family="Liberation Sans, sans-serif" font-size="6.6" font-weight="bold" fill="#1c1828" stroke="#1c1828" stroke-width="0.25">GST</text><text x="154.2" y="283.2" font-family="Liberation Sans, sans-serif" font-size="6.6" font-weight="bold" fill="#1c1828" stroke="#1c1828" stroke-width="0.25">Ag</text>
</g>
<text x="77.5" y="202.2" text-anchor="middle" font-family="Liberation Sans, sans-serif" font-size="6.3" fill="#000" stroke="#eee" stroke-width="1.2" paint-order="stroke">GST-PNA</text>
<text x="143.6" y="177.8" text-anchor="middle" font-family="Liberation Sans, sans-serif" font-size="6.1" fill="#111" stroke="#111" stroke-width="0.25">MWIR imager</text>
<text x="36" y="286.3" text-anchor="middle" font-family="Liberation Sans, sans-serif" font-size="6.2" fill="#222" stroke="#222" stroke-width="0.25">MWIR</text>
<text x="37.2" y="294.5" text-anchor="middle" font-family="Liberation Sans, sans-serif" font-size="6.2" fill="#222" stroke="#222" stroke-width="0.25">optical input</text>
<text x="14.8" y="312.6" font-family="Liberation Sans, sans-serif" font-size="9.4" font-weight="bold" fill="#111" stroke="#111" stroke-width="0.25">(d)</text>
<rect x="170.8" y="172" width="150.7" height="129.5" fill="#cbcbcb"/>
<g clip-path="url(#cpe)">
<g transform="translate(156.1,0)">
<polygon points="0,290 132,191.6 140,212 131,232 66.1,305 0,305" fill="url(#beame)" filter="url(#blur3)"/>
</g>
<polygon points="165,205.5 250,208 262,212 262,232 250,233 165,229.5" fill="url(#greenb)" filter="url(#blur3)"/>
<polygon points="250,208 300,212 330,214 330,240 300,244 250,233" fill="#60f090" fill-opacity="0.55" filter="url(#blur5)"/>
<ellipse cx="244" cy="236" rx="26" ry="11" transform="rotate(-35 244 236)" fill="#f2f8b4" fill-opacity="0.75" filter="url(#blur5)"/>
<ellipse cx="262" cy="228" rx="20" ry="18" fill="#f4fce0" fill-opacity="0.6" filter="url(#blur5)"/>
<g transform="translate(156.1,0)">
<polygon points="105.50,178.00 162.00,190.80 159.20,242.60 102.70,229.80" fill="#221a1a" stroke="#221a1a" stroke-width="1.2" stroke-linejoin="round"/><g fill="#6e6464"><polygon points="109.31,178.86 110.38,179.11 110.23,181.96 109.16,181.71"/><polygon points="106.66,227.81 107.74,228.06 107.58,230.91 106.51,230.66"/><polygon points="105.31,181.49 108.42,182.20 108.37,183.18 105.26,182.48"/><polygon points="158.70,193.59 161.81,194.29 161.76,195.28 158.65,194.57"/><polygon points="111.22,179.30 112.30,179.54 112.14,182.39 111.07,182.15"/><polygon points="108.58,228.25 109.65,228.49 109.50,231.34 108.42,231.10"/><polygon points="105.22,183.25 108.32,183.95 108.27,184.93 105.16,184.23"/><polygon points="158.61,195.34 161.72,196.05 161.66,197.03 158.56,196.33"/><polygon points="113.13,179.73 114.21,179.97 114.05,182.82 112.98,182.58"/><polygon points="110.49,228.68 111.56,228.92 111.41,231.77 110.33,231.53"/><polygon points="105.12,185.00 108.23,185.70 108.18,186.69 105.07,185.98"/><polygon points="158.51,197.09 161.62,197.80 161.57,198.78 158.46,198.08"/><polygon points="115.05,180.16 116.12,180.41 115.97,183.25 114.89,183.01"/><polygon points="112.40,229.11 113.47,229.36 113.32,232.21 112.25,231.96"/><polygon points="105.03,186.75 108.13,187.46 108.08,188.44 104.97,187.74"/><polygon points="158.42,198.85 161.53,199.55 161.47,200.54 158.37,199.83"/><polygon points="116.96,180.60 118.03,180.84 117.88,183.69 116.80,183.44"/><polygon points="114.31,229.55 115.39,229.79 115.23,232.64 114.16,232.40"/><polygon points="104.93,188.51 108.04,189.21 107.99,190.19 104.88,189.49"/><polygon points="158.32,200.60 161.43,201.31 161.38,202.29 158.27,201.59"/><polygon points="118.87,181.03 119.94,181.27 119.79,184.12 118.72,183.88"/><polygon points="116.22,229.98 117.30,230.22 117.14,233.07 116.07,232.83"/><polygon points="104.84,190.26 107.94,190.96 107.89,191.95 104.78,191.24"/><polygon points="158.23,202.35 161.34,203.06 161.28,204.04 158.18,203.34"/><polygon points="120.78,181.46 121.86,181.71 121.70,184.55 120.63,184.31"/><polygon points="118.14,230.41 119.21,230.66 119.06,233.51 117.98,233.26"/><polygon points="104.74,192.01 107.85,192.72 107.80,193.70 104.69,193.00"/><polygon points="158.14,204.11 161.24,204.81 161.19,205.80 158.08,205.09"/><polygon points="122.70,181.90 123.77,182.14 123.62,184.99 122.54,184.74"/><polygon points="120.05,230.85 121.12,231.09 120.97,233.94 119.90,233.70"/><polygon points="104.65,193.77 107.76,194.47 107.70,195.45 104.59,194.75"/><polygon points="158.04,205.86 161.15,206.57 161.09,207.55 157.99,206.85"/><polygon points="124.61,182.33 125.68,182.57 125.53,185.42 124.45,185.18"/><polygon points="121.96,231.28 123.04,231.52 122.88,234.37 121.81,234.13"/><polygon points="104.55,195.52 107.66,196.22 107.61,197.21 104.50,196.50"/><polygon points="157.95,207.61 161.05,208.32 161.00,209.30 157.89,208.60"/><polygon points="126.52,182.76 127.59,183.01 127.44,185.85 126.37,185.61"/><polygon points="123.87,231.71 124.95,231.96 124.79,234.81 123.72,234.56"/><polygon points="104.46,197.27 107.57,197.98 107.51,198.96 104.41,198.26"/><polygon points="157.85,209.37 160.96,210.07 160.91,211.06 157.80,210.35"/><polygon points="128.43,183.20 129.51,183.44 129.35,186.29 128.28,186.04"/><polygon points="125.79,232.15 126.86,232.39 126.71,235.24 125.63,235.00"/><polygon points="104.36,199.02 107.47,199.73 107.42,200.71 104.31,200.01"/><polygon points="157.76,211.12 160.86,211.82 160.81,212.81 157.70,212.11"/><polygon points="130.34,183.63 131.42,183.87 131.26,186.72 130.19,186.48"/><polygon points="127.70,232.58 128.77,232.82 128.62,235.67 127.54,235.43"/><polygon points="104.27,200.78 107.38,201.48 107.32,202.47 104.22,201.76"/><polygon points="157.66,212.87 160.77,213.58 160.72,214.56 157.61,213.86"/><polygon points="132.26,184.06 133.33,184.30 133.18,187.15 132.10,186.91"/><polygon points="129.61,233.01 130.68,233.26 130.53,236.10 129.46,235.86"/><polygon points="104.17,202.53 107.28,203.24 107.23,204.22 104.12,203.52"/><polygon points="157.57,214.63 160.67,215.33 160.62,216.32 157.51,215.61"/><polygon points="134.17,184.50 135.24,184.74 135.09,187.59 134.02,187.34"/><polygon points="131.52,233.45 132.60,233.69 132.44,236.54 131.37,236.30"/><polygon points="104.08,204.28 107.19,204.99 107.13,205.97 104.03,205.27"/><polygon points="157.47,216.38 160.58,217.08 160.53,218.07 157.42,217.36"/><polygon points="136.08,184.93 137.16,185.17 137.00,188.02 135.93,187.78"/><polygon points="133.44,233.88 134.51,234.12 134.36,236.97 133.28,236.73"/><polygon points="103.98,206.04 107.09,206.74 107.04,207.73 103.93,207.02"/><polygon points="157.38,218.13 160.48,218.84 160.43,219.82 157.32,219.12"/><polygon points="137.99,185.36 139.07,185.60 138.91,188.45 137.84,188.21"/><polygon points="135.35,234.31 136.42,234.56 136.27,237.40 135.19,237.16"/><polygon points="103.89,207.79 107.00,208.49 106.94,209.48 103.84,208.78"/><polygon points="157.28,219.89 160.39,220.59 160.34,221.58 157.23,220.87"/><polygon points="139.91,185.79 140.98,186.04 140.83,188.89 139.75,188.64"/><polygon points="137.26,234.75 138.33,234.99 138.18,237.84 137.11,237.59"/><polygon points="103.79,209.54 106.90,210.25 106.85,211.23 103.74,210.53"/><polygon points="157.19,221.64 160.29,222.34 160.24,223.33 157.13,222.62"/><polygon points="141.82,186.23 142.89,186.47 142.74,189.32 141.66,189.08"/><polygon points="139.17,235.18 140.25,235.42 140.09,238.27 139.02,238.03"/><polygon points="103.70,211.30 106.81,212.00 106.75,212.99 103.65,212.28"/><polygon points="157.09,223.39 160.20,224.10 160.15,225.08 157.04,224.38"/><polygon points="143.73,186.66 144.80,186.90 144.65,189.75 143.58,189.51"/><polygon points="141.08,235.61 142.16,235.86 142.00,238.70 140.93,238.46"/><polygon points="103.61,213.05 106.71,213.75 106.66,214.74 103.55,214.03"/><polygon points="157.00,225.15 160.11,225.85 160.05,226.83 156.94,226.13"/><polygon points="145.64,187.09 146.72,187.34 146.56,190.19 145.49,189.94"/><polygon points="143.00,236.05 144.07,236.29 143.92,239.14 142.84,238.89"/><polygon points="103.51,214.80 106.62,215.51 106.56,216.49 103.46,215.79"/><polygon points="156.90,226.90 160.01,227.60 159.96,228.59 156.85,227.88"/><polygon points="147.56,187.53 148.63,187.77 148.48,190.62 147.40,190.38"/><polygon points="144.91,236.48 145.98,236.72 145.83,239.57 144.76,239.33"/><polygon points="103.42,216.56 106.52,217.26 106.47,218.25 103.36,217.54"/><polygon points="156.81,228.65 159.92,229.36 159.86,230.34 156.76,229.64"/><polygon points="149.47,187.96 150.54,188.20 150.39,191.05 149.31,190.81"/><polygon points="146.82,236.91 147.90,237.16 147.74,240.00 146.67,239.76"/><polygon points="103.32,218.31 106.43,219.01 106.38,220.00 103.27,219.29"/><polygon points="156.71,230.41 159.82,231.11 159.77,232.09 156.66,231.39"/><polygon points="151.38,188.39 152.45,188.64 152.30,191.49 151.23,191.24"/><polygon points="148.73,237.35 149.81,237.59 149.65,240.44 148.58,240.19"/><polygon points="103.23,220.06 106.33,220.77 106.28,221.75 103.17,221.05"/><polygon points="156.62,232.16 159.73,232.86 159.67,233.85 156.57,233.14"/><polygon points="153.29,188.83 154.37,189.07 154.21,191.92 153.14,191.68"/><polygon points="150.65,237.78 151.72,238.02 151.57,240.87 150.49,240.63"/><polygon points="103.13,221.82 106.24,222.52 106.19,223.51 103.08,222.80"/><polygon points="156.52,233.91 159.63,234.62 159.58,235.60 156.47,234.90"/><polygon points="155.20,189.26 156.28,189.50 156.12,192.35 155.05,192.11"/><polygon points="152.56,238.21 153.63,238.45 153.48,241.30 152.40,241.06"/><polygon points="103.04,223.57 106.14,224.27 106.09,225.26 102.98,224.55"/><polygon points="156.43,235.67 159.54,236.37 159.48,237.35 156.38,236.65"/><polygon points="157.12,189.69 158.19,189.94 158.04,192.79 156.96,192.54"/><polygon points="154.47,238.64 155.54,238.89 155.39,241.74 154.32,241.49"/><polygon points="102.94,225.32 106.05,226.03 106.00,227.01 102.89,226.31"/><polygon points="156.33,237.42 159.44,238.12 159.39,239.11 156.28,238.40"/></g><polygon points="109.26,182.52 157.85,193.53 155.44,238.08 106.85,227.07" fill="#e8e2c4"/><g fill="#5a5050" fill-opacity="0.55"><polygon points="111.31,184.04 111.99,184.19 111.89,186.00 111.21,185.85"/><polygon points="109.11,224.70 109.79,224.85 109.69,226.67 109.02,226.51"/><polygon points="110.28,184.71 112.26,185.16 112.23,185.78 110.25,185.33"/><polygon points="154.64,194.76 156.61,195.21 156.58,195.83 154.60,195.38"/><polygon points="112.82,184.38 113.50,184.53 113.40,186.34 112.72,186.19"/><polygon points="110.62,225.04 111.30,225.19 111.20,227.01 110.52,226.85"/><polygon points="110.21,186.09 112.19,186.54 112.15,187.16 110.18,186.71"/><polygon points="154.56,196.14 156.54,196.59 156.51,197.21 154.53,196.76"/><polygon points="114.33,184.72 115.00,184.87 114.91,186.69 114.23,186.53"/><polygon points="112.13,225.38 112.81,225.54 112.71,227.35 112.03,227.19"/><polygon points="110.14,187.47 112.11,187.92 112.08,188.54 110.10,188.10"/><polygon points="154.49,197.52 156.47,197.97 156.43,198.59 154.45,198.14"/><polygon points="115.83,185.06 116.51,185.21 116.41,187.03 115.73,186.87"/><polygon points="113.63,225.72 114.31,225.88 114.21,227.69 113.54,227.54"/><polygon points="110.06,188.86 112.04,189.30 112.00,189.93 110.03,189.48"/><polygon points="154.41,198.90 156.39,199.35 156.36,199.97 154.38,199.53"/><polygon points="117.34,185.40 118.02,185.55 117.92,187.37 117.24,187.21"/><polygon points="115.14,226.06 115.82,226.22 115.72,228.03 115.04,227.88"/><polygon points="109.99,190.24 111.96,190.69 111.93,191.31 109.95,190.86"/><polygon points="154.34,200.29 156.32,200.73 156.28,201.35 154.30,200.91"/><polygon points="118.85,185.74 119.52,185.90 119.43,187.71 118.75,187.56"/><polygon points="116.65,226.41 117.33,226.56 117.23,228.37 116.55,228.22"/><polygon points="109.91,191.62 111.89,192.07 111.86,192.69 109.88,192.24"/><polygon points="154.26,201.67 156.24,202.11 156.21,202.74 154.23,202.29"/><polygon points="120.35,186.08 121.03,186.24 120.93,188.05 120.25,187.90"/><polygon points="118.15,226.75 118.83,226.90 118.73,228.71 118.06,228.56"/><polygon points="109.84,193.00 111.81,193.45 111.78,194.07 109.80,193.62"/><polygon points="154.19,203.05 156.17,203.50 156.13,204.12 154.16,203.67"/><polygon points="121.86,186.43 122.54,186.58 122.44,188.39 121.76,188.24"/><polygon points="119.66,227.09 120.34,227.24 120.24,229.05 119.56,228.90"/><polygon points="109.76,194.38 111.74,194.83 111.71,195.45 109.73,195.00"/><polygon points="154.11,204.43 156.09,204.88 156.06,205.50 154.08,205.05"/><polygon points="123.37,186.77 124.04,186.92 123.95,188.73 123.27,188.58"/><polygon points="121.17,227.43 121.85,227.58 121.75,229.40 121.07,229.24"/><polygon points="109.69,195.76 111.66,196.21 111.63,196.83 109.65,196.38"/><polygon points="154.04,205.81 156.02,206.26 155.98,206.88 154.01,206.43"/><polygon points="124.87,187.11 125.55,187.26 125.45,189.07 124.77,188.92"/><polygon points="122.67,227.77 123.35,227.92 123.25,229.74 122.58,229.58"/><polygon points="109.61,197.14 111.59,197.59 111.56,198.21 109.58,197.77"/><polygon points="153.96,207.19 155.94,207.64 155.91,208.26 153.93,207.81"/><polygon points="126.38,187.45 127.06,187.60 126.96,189.42 126.28,189.26"/><polygon points="124.18,228.11 124.86,228.27 124.76,230.08 124.08,229.93"/><polygon points="109.54,198.53 111.52,198.97 111.48,199.59 109.50,199.15"/><polygon points="153.89,208.57 155.87,209.02 155.83,209.64 153.86,209.19"/><polygon points="127.89,187.79 128.56,187.94 128.47,189.76 127.79,189.60"/><polygon points="125.69,228.45 126.37,228.61 126.27,230.42 125.59,230.27"/><polygon points="109.46,199.91 111.44,200.35 111.41,200.98 109.43,200.53"/><polygon points="153.82,209.95 155.79,210.40 155.76,211.02 153.78,210.58"/><polygon points="129.39,188.13 130.07,188.29 129.97,190.10 129.29,189.94"/><polygon points="127.19,228.79 127.87,228.95 127.77,230.76 127.10,230.61"/><polygon points="109.39,201.29 111.37,201.74 111.33,202.36 109.35,201.91"/><polygon points="153.74,211.34 155.72,211.78 155.68,212.41 153.71,211.96"/><polygon points="130.90,188.47 131.58,188.63 131.48,190.44 130.80,190.29"/><polygon points="128.70,229.14 129.38,229.29 129.28,231.10 128.60,230.95"/><polygon points="109.31,202.67 111.29,203.12 111.26,203.74 109.28,203.29"/><polygon points="153.67,212.72 155.64,213.17 155.61,213.79 153.63,213.34"/><polygon points="132.41,188.81 133.08,188.97 132.99,190.78 132.31,190.63"/><polygon points="130.21,229.48 130.89,229.63 130.79,231.44 130.11,231.29"/><polygon points="109.24,204.05 111.22,204.50 111.18,205.12 109.21,204.67"/><polygon points="153.59,214.10 155.57,214.55 155.54,215.17 153.56,214.72"/><polygon points="133.91,189.16 134.59,189.31 134.49,191.12 133.81,190.97"/><polygon points="131.71,229.82 132.39,229.97 132.29,231.79 131.62,231.63"/><polygon points="109.16,205.43 111.14,205.88 111.11,206.50 109.13,206.05"/><polygon points="153.52,215.48 155.49,215.93 155.46,216.55 153.48,216.10"/><polygon points="135.42,189.50 136.10,189.65 136.00,191.46 135.32,191.31"/><polygon points="133.22,230.16 133.90,230.31 133.80,232.13 133.12,231.97"/><polygon points="109.09,206.81 111.07,207.26 111.03,207.88 109.06,207.43"/><polygon points="153.44,216.86 155.42,217.31 155.39,217.93 153.41,217.48"/><polygon points="136.93,189.84 137.60,189.99 137.51,191.81 136.83,191.65"/><polygon points="134.73,230.50 135.41,230.66 135.31,232.47 134.63,232.31"/><polygon points="109.02,208.19 110.99,208.64 110.96,209.26 108.98,208.82"/><polygon points="153.37,218.24 155.35,218.69 155.31,219.31 153.33,218.86"/><polygon points="138.43,190.18 139.11,190.33 139.01,192.15 138.33,191.99"/><polygon points="136.23,230.84 136.91,231.00 136.81,232.81 136.14,232.66"/><polygon points="108.94,209.58 110.92,210.02 110.88,210.65 108.91,210.20"/><polygon points="153.29,219.62 155.27,220.07 155.24,220.69 153.26,220.25"/><polygon points="139.94,190.52 140.62,190.67 140.52,192.49 139.84,192.33"/><polygon points="137.74,231.18 138.42,231.34 138.32,233.15 137.64,233.00"/><polygon points="108.87,210.96 110.84,211.41 110.81,212.03 108.83,211.58"/><polygon points="153.22,221.01 155.20,221.45 155.16,222.07 153.18,221.63"/><polygon points="141.45,190.86 142.12,191.02 142.03,192.83 141.35,192.68"/><polygon points="139.25,231.53 139.93,231.68 139.83,233.49 139.15,233.34"/><polygon points="108.79,212.34 110.77,212.79 110.74,213.41 108.76,212.96"/><polygon points="153.14,222.39 155.12,222.83 155.09,223.46 153.11,223.01"/><polygon points="142.95,191.20 143.63,191.36 143.53,193.17 142.85,193.02"/><polygon points="140.75,231.87 141.43,232.02 141.33,233.83 140.66,233.68"/><polygon points="108.72,213.72 110.69,214.17 110.66,214.79 108.68,214.34"/><polygon points="153.07,223.77 155.05,224.22 155.01,224.84 153.04,224.39"/><polygon points="144.46,191.55 145.14,191.70 145.04,193.51 144.36,193.36"/><polygon points="142.26,232.21 142.94,232.36 142.84,234.17 142.16,234.02"/><polygon points="108.64,215.10 110.62,215.55 110.59,216.17 108.61,215.72"/><polygon points="152.99,225.15 154.97,225.60 154.94,226.22 152.96,225.77"/><polygon points="145.97,191.89 146.64,192.04 146.55,193.85 145.87,193.70"/><polygon points="143.77,232.55 144.45,232.70 144.35,234.52 143.67,234.36"/><polygon points="108.57,216.48 110.54,216.93 110.51,217.55 108.53,217.10"/><polygon points="152.92,226.53 154.90,226.98 154.86,227.60 152.89,227.15"/><polygon points="147.47,192.23 148.15,192.38 148.05,194.19 147.37,194.04"/><polygon points="145.27,232.89 145.95,233.04 145.85,234.86 145.18,234.70"/><polygon points="108.49,217.86 110.47,218.31 110.44,218.93 108.46,218.49"/><polygon points="152.84,227.91 154.82,228.36 154.79,228.98 152.81,228.53"/><polygon points="148.98,192.57 149.66,192.72 149.56,194.54 148.88,194.38"/><polygon points="146.78,233.23 147.46,233.39 147.36,235.20 146.68,235.05"/><polygon points="108.42,219.25 110.40,219.69 110.36,220.31 108.38,219.87"/><polygon points="152.77,229.29 154.75,229.74 154.71,230.36 152.74,229.91"/><polygon points="150.49,192.91 151.16,193.06 151.07,194.88 150.39,194.72"/><polygon points="148.29,233.57 148.97,233.73 148.87,235.54 148.19,235.39"/><polygon points="108.34,220.63 110.32,221.07 110.29,221.70 108.31,221.25"/><polygon points="152.70,230.67 154.67,231.12 154.64,231.74 152.66,231.30"/><polygon points="151.99,193.25 152.67,193.41 152.57,195.22 151.89,195.06"/><polygon points="149.79,233.91 150.47,234.07 150.37,235.88 149.70,235.73"/><polygon points="108.27,222.01 110.25,222.46 110.21,223.08 108.23,222.63"/><polygon points="152.62,232.06 154.60,232.50 154.56,233.13 152.59,232.68"/><polygon points="153.50,193.59 154.18,193.75 154.08,195.56 153.40,195.41"/><polygon points="151.30,234.26 151.98,234.41 151.88,236.22 151.20,236.07"/><polygon points="108.19,223.39 110.17,223.84 110.14,224.46 108.16,224.01"/><polygon points="152.55,233.44 154.52,233.89 154.49,234.51 152.51,234.06"/><polygon points="155.01,193.93 155.68,194.09 155.59,195.90 154.91,195.75"/><polygon points="152.81,234.60 153.49,234.75 153.39,236.56 152.71,236.41"/><polygon points="108.12,224.77 110.10,225.22 110.06,225.84 108.09,225.39"/><polygon points="152.47,234.82 154.45,235.27 154.42,235.89 152.44,235.44"/></g><polygon points="112.75,186.72 153.99,196.06 151.95,233.88 110.71,224.54" fill="#3a3444"/><polygon points="114.63,188.98 151.92,197.43 150.07,231.62 112.78,223.17" fill="url(#ein)"/><polygon points="119.35,196.87 146.47,203.01 145.46,221.66 118.34,215.52" fill="#2aa4f0" stroke="#a8f4ff" stroke-width="0.6"/><polygon points="118.34,215.52 146.47,203.01 145.46,221.66" fill="#48c0f4"/><circle cx="112.48" cy="186.40" r="0.9" fill="#1a1010"/><circle cx="154.29" cy="195.87" r="0.9" fill="#1a1010"/><circle cx="152.22" cy="234.20" r="0.9" fill="#1a1010"/><circle cx="110.41" cy="224.73" r="0.9" fill="#1a1010"/><text x="135.12" y="224.46" font-family="Liberation Sans, sans-serif" font-size="7.5" fill="#111" stroke="#111" stroke-width="0.25">λ</text><text x="139.12" y="225.96" font-family="Liberation Sans, sans-serif" font-size="3.5" fill="#111" stroke="#111" stroke-width="0.25">1</text>
<polygon points="124,232 158,218 170,222 170,250 158,254 124,246" fill="#38f070" fill-opacity="0.75" filter="url(#blur5)"/>
<ellipse cx="112" cy="247" rx="26" ry="9" fill="#e8f8d0" fill-opacity="0.55" filter="url(#blur5)"/>
<polygon points="96,216 134,189 147,202 141,234 121,250 100,256" fill="#e8fff0" fill-opacity="0.32" filter="url(#blur3)"/>
<polygon points="96,226 116,212 128,234 110,254 96,256" fill="#f4fce4" fill-opacity="0.5" filter="url(#blur3)"/>
<ellipse cx="109.8" cy="229.5" rx="22.2" ry="32.7" transform="rotate(-38.7 109.8 229.5)" fill="#ffffff" fill-opacity="0.3" stroke="#c0c0c0" stroke-width="0.6"/>
<polyline points="107.3,259.6 117.3,244.2" fill="none" stroke="#555" stroke-width="0.8"/><polyline points="164,259.6 120,244.2" fill="none" stroke="#555" stroke-width="0.8"/><circle cx="118.7" cy="243.9" r="1.5" fill="#fff" stroke="#555" stroke-width="0.6"/><rect x="107.3" y="259.6" width="56.7" height="39.3" fill="url(#inse)" stroke="#777" stroke-width="0.8"/><ellipse cx="111.6" cy="265.4" rx="0.87" ry="1.48" fill="url(#dote)"/><ellipse cx="119.4" cy="265.4" rx="1.14" ry="1.76" fill="url(#dote)"/><ellipse cx="129.0" cy="265.0" rx="1.46" ry="2.10" fill="#d8e8a0"/><ellipse cx="141.9" cy="264.5" rx="1.90" ry="2.57" fill="url(#dote)"/><ellipse cx="159.5" cy="263.4" rx="2.50" ry="3.20" fill="url(#dote)"/><ellipse cx="108.0" cy="274.0" rx="0.75" ry="1.35" fill="url(#dote)"/><ellipse cx="115.4" cy="274.0" rx="1.00" ry="1.62" fill="url(#dote)"/><ellipse cx="124.0" cy="274.5" rx="1.29" ry="1.92" fill="url(#dote)"/><ellipse cx="135.5" cy="275.8" rx="1.68" ry="2.34" fill="url(#dote)"/><ellipse cx="150.2" cy="276.7" rx="2.18" ry="2.87" fill="url(#dote)"/><ellipse cx="111.6" cy="281.4" rx="0.87" ry="1.48" fill="url(#dote)"/><ellipse cx="119.4" cy="283.4" rx="1.14" ry="1.76" fill="url(#dote)"/><ellipse cx="129.4" cy="285.2" rx="1.48" ry="2.12" fill="url(#dote)"/><ellipse cx="142.1" cy="287.5" rx="1.91" ry="2.57" fill="url(#dote)"/><ellipse cx="158.9" cy="291.0" rx="2.48" ry="3.18" fill="url(#dote)"/><ellipse cx="108.0" cy="288.0" rx="0.75" ry="1.35" fill="url(#dote)"/><ellipse cx="115.4" cy="290.8" rx="1.00" ry="1.62" fill="url(#dote)"/><ellipse cx="124.0" cy="293.5" rx="1.29" ry="1.92" fill="url(#dote)"/><ellipse cx="135.5" cy="296.8" rx="1.68" ry="2.34" fill="url(#dote)"/><ellipse cx="111.6" cy="296.8" rx="0.87" ry="1.48" fill="url(#dote)"/><ellipse cx="159.5" cy="272.0" rx="0.70" ry="0.90" fill="url(#dote)"/><text x="144.2" y="271.1" font-family="Liberation Sans, sans-serif" font-size="6.6" font-weight="bold" fill="#1c1828" stroke="#1c1828" stroke-width="0.25">GST</text><text x="154.2" y="283.2" font-family="Liberation Sans, sans-serif" font-size="6.6" font-weight="bold" fill="#1c1828" stroke="#1c1828" stroke-width="0.25">Ag</text>
</g>
<path d="M178.9,218.4 C183,218.4 186,217.6 188.5,215.5 C191.5,212.5 194.8,207 198.3,206.8 C201.2,207 203.2,212 205.2,216.2 C207.5,220.6 210,223 214.2,223.6 L214.2,224.3 C210.8,224.8 208.3,226.5 206.2,229.5 C204.3,232.3 202.2,234.4 200.2,234.3 C197.8,234.1 195.6,229.6 193.2,225.8 C191,222.4 187.5,219.6 178.9,219.1 Z" fill="url(#pumpg)" stroke="#1e9c6c" stroke-width="0.5"/>
<g stroke="#7ae8c4" stroke-width="0.55" fill="none" stroke-opacity="0.8"><path d="M195.8,209 L200.8,233"/><path d="M198.6,207.3 L203.4,230.5"/><path d="M193,211.8 L197.6,231"/><path d="M201.6,210.5 L205.6,227.5"/></g>
<polygon points="218.3,224 214,221.6 214,226.4" fill="#1a5a40"/>
</g>
<text x="186.8" y="205.3" text-anchor="middle" font-family="Liberation Sans, sans-serif" font-size="6.3" fill="#000" stroke="#e4e4e4" stroke-width="1.2" paint-order="stroke">pump</text>
<text x="204.4" y="312.6" font-family="Liberation Sans, sans-serif" font-size="9.4" font-weight="bold" fill="#111" stroke="#111" stroke-width="0.25">(e)</text>
<rect x="388.5" y="197" width="92.5" height="95.0" fill="url(#fshade)"/>
<line x1="404" y1="196.8" x2="481" y2="196.8" stroke="#888" stroke-width="0.6" stroke-dasharray="1,1"/>
<path d="M383.40,292.00 L383.65,292.00 L383.90,292.00 L384.15,292.00 L384.40,292.00 L384.65,292.00 L384.90,292.00 L385.15,292.00 L385.40,292.00 L385.65,291.99 L385.90,291.99 L386.15,291.98 L386.40,291.97 L386.65,291.95 L386.90,291.91 L387.15,291.84 L387.40,291.74 L387.65,291.58 L387.90,291.33 L388.15,290.97 L388.40,290.43 L388.65,289.66 L388.90,288.59 L389.15,287.13 L389.40,285.18 L389.65,282.64 L389.90,279.41 L390.15,275.42 L390.40,270.60 L390.65,264.94 L390.90,258.48 L391.15,251.31 L391.40,243.60 L391.65,235.59 L391.90,227.59 L392.15,219.94 L392.40,213.01 L392.65,207.16 L392.90,202.72 L393.15,199.94 L393.40,199.00 L393.65,199.94 L393.90,202.72 L394.15,207.16 L394.40,213.01 L394.65,219.94 L394.90,227.59 L395.15,235.59 L395.40,243.60 L395.65,251.31 L395.90,258.48 L396.15,264.94 L396.40,270.60 L396.65,275.42 L396.90,279.41 L397.15,282.64 L397.40,285.18 L397.65,287.13 L397.90,288.59 L398.15,289.66 L398.40,290.43 L398.65,290.97 L398.90,291.33 L399.15,291.58 L399.40,291.74 L399.65,291.84 L399.90,291.91 L400.15,291.95 L400.40,291.97 L400.65,291.98 L400.90,291.99 L401.15,291.99 L401.40,292.00 L401.65,292.00 L401.90,292.00 L402.15,292.00 L402.40,292.00 L402.65,292.00 L402.90,292.00 L403.15,292.00 L403.40,292.00" fill="#f0a0b0" fill-opacity="0.3" stroke="#b8101c" stroke-width="1.2"/>
<path d="M385.20,292.00 L385.45,292.00 L385.70,292.00 L385.95,292.00 L386.20,292.00 L386.45,292.00 L386.70,292.00 L386.95,292.00 L387.20,292.00 L387.45,291.99 L387.70,291.99 L387.95,291.98 L388.20,291.97 L388.45,291.95 L388.70,291.91 L388.95,291.84 L389.20,291.74 L389.45,291.58 L389.70,291.33 L389.95,290.96 L390.20,290.42 L390.45,289.65 L390.70,288.57 L390.95,287.10 L391.20,285.14 L391.45,282.59 L391.70,279.35 L391.95,275.33 L392.20,270.49 L392.45,264.80 L392.70,258.30 L392.95,251.09 L393.20,243.34 L393.45,235.29 L393.70,227.24 L393.95,219.55 L394.20,212.58 L394.45,206.70 L394.70,202.24 L394.95,199.45 L395.20,198.50 L395.45,199.45 L395.70,202.24 L395.95,206.70 L396.20,212.58 L396.45,219.55 L396.70,227.24 L396.95,235.29 L397.20,243.34 L397.45,251.09 L397.70,258.30 L397.95,264.80 L398.20,270.49 L398.45,275.33 L398.70,279.35 L398.95,282.59 L399.20,285.14 L399.45,287.10 L399.70,288.57 L399.95,289.65 L400.20,290.42 L400.45,290.96 L400.70,291.33 L400.95,291.58 L401.20,291.74 L401.45,291.84 L401.70,291.91 L401.95,291.95 L402.20,291.97 L402.45,291.98 L402.70,291.99 L402.95,291.99 L403.20,292.00 L403.45,292.00 L403.70,292.00 L403.95,292.00 L404.20,292.00 L404.45,292.00 L404.70,292.00 L404.95,292.00 L405.20,292.00" fill="#f0a0b0" fill-opacity="0.3" stroke="#e81838" stroke-width="1.2"/>
<path d="M392.00,292.00 L392.25,292.00 L392.50,292.00 L392.75,292.00 L393.00,292.00 L393.25,292.00 L393.50,292.00 L393.75,292.00 L394.00,292.00 L394.25,291.99 L394.50,291.99 L394.75,291.98 L395.00,291.97 L395.25,291.95 L395.50,291.91 L395.75,291.85 L396.00,291.75 L396.25,291.59 L396.50,291.35 L396.75,290.99 L397.00,290.46 L397.25,289.71 L397.50,288.66 L397.75,287.23 L398.00,285.32 L398.25,282.84 L398.50,279.68 L398.75,275.78 L399.00,271.06 L399.25,265.53 L399.50,259.20 L399.75,252.18 L400.00,244.64 L400.25,236.81 L400.50,228.98 L400.75,221.49 L401.00,214.71 L401.25,208.98 L401.50,204.64 L401.75,201.92 L402.00,201.00 L402.25,201.92 L402.50,204.64 L402.75,208.98 L403.00,214.71 L403.25,221.49 L403.50,228.98 L403.75,236.81 L404.00,244.64 L404.25,252.18 L404.50,259.20 L404.75,265.53 L405.00,271.06 L405.25,275.78 L405.50,279.68 L405.75,282.84 L406.00,285.32 L406.25,287.23 L406.50,288.66 L406.75,289.71 L407.00,290.46 L407.25,290.99 L407.50,291.35 L407.75,291.59 L408.00,291.75 L408.25,291.85 L408.50,291.91 L408.75,291.95 L409.00,291.97 L409.25,291.98 L409.50,291.99 L409.75,291.99 L410.00,292.00 L410.25,292.00 L410.50,292.00 L410.75,292.00 L411.00,292.00 L411.25,292.00 L411.50,292.00 L411.75,292.00 L412.00,292.00" fill="#f0a0c0" fill-opacity="0.3" stroke="#e0206a" stroke-width="1.2"/>
<path d="M401.30,292.00 L401.55,292.00 L401.80,292.00 L402.05,292.00 L402.30,292.00 L402.55,292.00 L402.80,292.00 L403.05,292.00 L403.30,292.00 L403.55,291.99 L403.80,291.99 L404.05,291.98 L404.30,291.97 L404.55,291.95 L404.80,291.91 L405.05,291.85 L405.30,291.75 L405.55,291.59 L405.80,291.35 L406.05,290.99 L406.30,290.46 L406.55,289.71 L406.80,288.66 L407.05,287.23 L407.30,285.32 L407.55,282.84 L407.80,279.68 L408.05,275.78 L408.30,271.06 L408.55,265.53 L408.80,259.20 L409.05,252.18 L409.30,244.64 L409.55,236.81 L409.80,228.98 L410.05,221.49 L410.30,214.71 L410.55,208.98 L410.80,204.64 L411.05,201.92 L411.30,201.00 L411.55,201.92 L411.80,204.64 L412.05,208.98 L412.30,214.71 L412.55,221.49 L412.80,228.98 L413.05,236.81 L413.30,244.64 L413.55,252.18 L413.80,259.20 L414.05,265.53 L414.30,271.06 L414.55,275.78 L414.80,279.68 L415.05,282.84 L415.30,285.32 L415.55,287.23 L415.80,288.66 L416.05,289.71 L416.30,290.46 L416.55,290.99 L416.80,291.35 L417.05,291.59 L417.30,291.75 L417.55,291.85 L417.80,291.91 L418.05,291.95 L418.30,291.97 L418.55,291.98 L418.80,291.99 L419.05,291.99 L419.30,292.00 L419.55,292.00 L419.80,292.00 L420.05,292.00 L420.30,292.00 L420.55,292.00 L420.80,292.00 L421.05,292.00 L421.30,292.00" fill="#e8a8d8" fill-opacity="0.3" stroke="#d02a98" stroke-width="1.2"/>
<path d="M416.30,292.00 L416.55,292.00 L416.80,292.00 L417.05,292.00 L417.30,292.00 L417.55,292.00 L417.80,292.00 L418.05,292.00 L418.30,292.00 L418.55,291.99 L418.80,291.99 L419.05,291.98 L419.30,291.97 L419.55,291.95 L419.80,291.91 L420.05,291.85 L420.30,291.75 L420.55,291.59 L420.80,291.35 L421.05,290.99 L421.30,290.46 L421.55,289.71 L421.80,288.66 L422.05,287.23 L422.30,285.32 L422.55,282.84 L422.80,279.68 L423.05,275.78 L423.30,271.06 L423.55,265.53 L423.80,259.20 L424.05,252.18 L424.30,244.64 L424.55,236.81 L424.80,228.98 L425.05,221.49 L425.30,214.71 L425.55,208.98 L425.80,204.64 L426.05,201.92 L426.30,201.00 L426.55,201.92 L426.80,204.64 L427.05,208.98 L427.30,214.71 L427.55,221.49 L427.80,228.98 L428.05,236.81 L428.30,244.64 L428.55,252.18 L428.80,259.20 L429.05,265.53 L429.30,271.06 L429.55,275.78 L429.80,279.68 L430.05,282.84 L430.30,285.32 L430.55,287.23 L430.80,288.66 L431.05,289.71 L431.30,290.46 L431.55,290.99 L431.80,291.35 L432.05,291.59 L432.30,291.75 L432.55,291.85 L432.80,291.91 L433.05,291.95 L433.30,291.97 L433.55,291.98 L433.80,291.99 L434.05,291.99 L434.30,292.00 L434.55,292.00 L434.80,292.00 L435.05,292.00 L435.30,292.00 L435.55,292.00 L435.80,292.00 L436.05,292.00 L436.30,292.00" fill="#e0c0e8" fill-opacity="0.3" stroke="#b058c0" stroke-width="1.2"/>
<path d="M464.00,292.00 L464.25,292.00 L464.50,292.00 L464.75,292.00 L465.00,292.00 L465.25,292.00 L465.50,292.00 L465.75,292.00 L466.00,292.00 L466.25,291.99 L466.50,291.99 L466.75,291.98 L467.00,291.97 L467.25,291.95 L467.50,291.91 L467.75,291.84 L468.00,291.74 L468.25,291.58 L468.50,291.34 L468.75,290.98 L469.00,290.45 L469.25,289.69 L469.50,288.63 L469.75,287.18 L470.00,285.25 L470.25,282.74 L470.50,279.55 L470.75,275.60 L471.00,270.83 L471.25,265.24 L471.50,258.84 L471.75,251.74 L472.00,244.12 L472.25,236.20 L472.50,228.28 L472.75,220.71 L473.00,213.86 L473.25,208.07 L473.50,203.68 L473.75,200.93 L474.00,200.00 L474.25,200.93 L474.50,203.68 L474.75,208.07 L475.00,213.86 L475.25,220.71 L475.50,228.28 L475.75,236.20 L476.00,244.12 L476.25,251.74 L476.50,258.84 L476.75,265.24 L477.00,270.83 L477.25,275.60 L477.50,279.55 L477.75,282.74 L478.00,285.25 L478.25,287.18 L478.50,288.63 L478.75,289.69 L479.00,290.45 L479.25,290.98 L479.50,291.34 L479.75,291.58 L480.00,291.74 L480.25,291.84 L480.50,291.91 L480.75,291.95 L481.00,291.97 L481.25,291.98 L481.50,291.99 L481.75,291.99 L482.00,292.00 L482.25,292.00 L482.50,292.00 L482.75,292.00 L483.00,292.00 L483.25,292.00 L483.50,292.00 L483.75,292.00 L484.00,292.00" fill="#a0e0e8" fill-opacity="0.3" stroke="#1898c0" stroke-width="1.2"/>
<path d="M437,226.8 L471,226.8 C478,227 478,240 471,240.2 L397,240.2" fill="none" stroke="#222" stroke-width="0.8" stroke-dasharray="1.3,0.9"/>
<polygon points="434.2,226.8 438,225.2 438,228.4" fill="#222"/>
<line x1="367" y1="292.0" x2="367" y2="179" stroke="#222" stroke-width="1.3"/>
<polygon points="367,176.8 365,180.4 369,180.4" fill="#222"/>
<line x1="366.4" y1="292.0" x2="524" y2="292.0" stroke="#222" stroke-width="1.3"/>
<polygon points="527.5,292.0 522.5,290.1 522.5,293.9" fill="#222"/>
<rect x="386.3" y="180.4" width="94.6" height="4.6" fill="url(#gstbar)"/>
<text x="431.3" y="178.5" text-anchor="middle" font-family="Liberation Sans, sans-serif" font-size="6.9" font-weight="bold" fill="#222" stroke="#222" stroke-width="0.25">GST state</text>
<text x="394.6" y="193.5" text-anchor="middle" font-family="Liberation Sans, sans-serif" font-size="8.2" font-weight="bold" fill="#111" stroke="#111" stroke-width="0.25">Amorphous</text>
<text x="466" y="192.4" text-anchor="middle" font-family="Liberation Sans, sans-serif" font-size="8.2" font-weight="bold" fill="#111" stroke="#111" stroke-width="0.25">Crystalline</text>
<text x="357.4" y="186" text-anchor="middle" font-family="Liberation Sans, sans-serif" font-size="6.5" font-weight="bold" fill="#222" stroke="#222" stroke-width="0.25">1</text>
<text x="359.8" y="294" text-anchor="middle" font-family="Liberation Sans, sans-serif" font-size="6.5" font-weight="bold" fill="#222" stroke="#222" stroke-width="0.25">0</text>
<text x="356.5" y="239.2" text-anchor="middle" font-family="Liberation Sans, sans-serif" font-size="11" font-weight="bold" fill="#111" stroke="#111" stroke-width="0.25">T</text>
<text x="381.4" y="300.6" text-anchor="middle" font-family="Liberation Sans, sans-serif" font-size="7" font-weight="bold" fill="#222" stroke="#222" stroke-width="0.25">3</text>
<text x="443" y="300.6" text-anchor="middle" font-family="Liberation Sans, sans-serif" font-size="7" font-weight="bold" fill="#222" stroke="#222" stroke-width="0.25">4</text>
<text x="504" y="300.6" text-anchor="middle" font-family="Liberation Sans, sans-serif" font-size="7" font-weight="bold" fill="#222" stroke="#222" stroke-width="0.25">5</text>
<text x="446.5" y="312" text-anchor="middle" font-family="Liberation Sans, sans-serif" font-size="10.5" letter-spacing="0.7" fill="#111" stroke="#111" stroke-width="0.25">λ (μm)</text>
<text x="380.8" y="312.6" font-family="Liberation Sans, sans-serif" font-size="8.6" font-weight="bold" fill="#111" stroke="#111" stroke-width="0.25">(f)</text>
<text x="392" y="198.2" font-family="Liberation Sans, sans-serif" font-size="6.5" fill="#111" stroke="#111" stroke-width="0.25">λ</text><text x="396.2" y="199.6" font-family="Liberation Sans, sans-serif" font-size="4" fill="#111" stroke="#111" stroke-width="0.25">1</text>
<text x="472" y="198.2" font-family="Liberation Sans, sans-serif" font-size="6.5" fill="#111" stroke="#111" stroke-width="0.25">λ</text><text x="476.2" y="199.6" font-family="Liberation Sans, sans-serif" font-size="4" fill="#111" stroke="#111" stroke-width="0.25">N</text>
</svg>
</body></html>
